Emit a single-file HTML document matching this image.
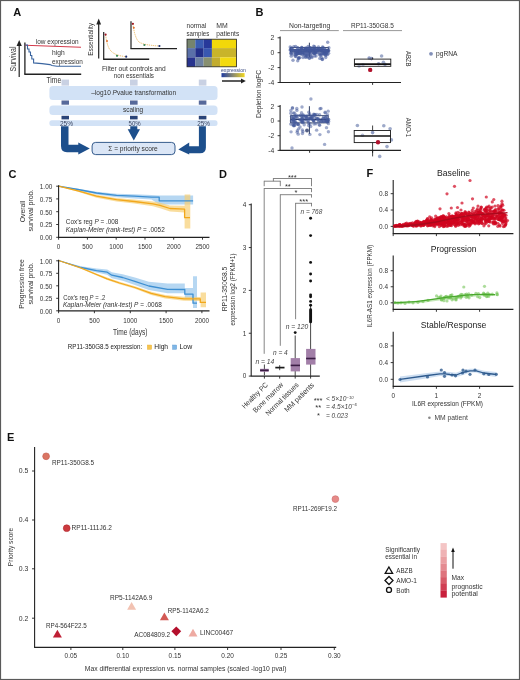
<!DOCTYPE html>
<html><head><meta charset="utf-8"><title>Figure</title>
<style>
html,body{margin:0;padding:0;background:#fff;}
body{width:520px;height:680px;overflow:hidden;}
svg{display:block;font-family:"Liberation Sans", sans-serif;will-change:transform;}
</style></head>
<body>
<svg width="520" height="680" viewBox="0 0 520 680">
<rect x="0" y="0" width="520" height="680" fill="#fff"/>
<text x="13.30" y="16.20" font-size="11.0" text-anchor="start" fill="#111" font-weight="bold">A</text>
<line x1="19.20" y1="77.00" x2="19.20" y2="45.00" stroke="#222" stroke-width="1.2"/>
<path d="M16.6,46 L19.2,40 L21.8,46 Z" fill="#222" stroke="none" stroke-width="1"/>
<text x="15.70" y="59.00" font-size="8.6" text-anchor="middle" fill="#333" textLength="25.00" lengthAdjust="spacingAndGlyphs" transform="rotate(-90 15.70 59.00)">Survival</text>
<line x1="24.90" y1="42.50" x2="24.90" y2="74.30" stroke="#222" stroke-width="1.3"/>
<line x1="24.30" y1="74.30" x2="81.20" y2="74.30" stroke="#222" stroke-width="1.6"/>
<path d="M25,45.2 L81,47.3" fill="none" stroke="#d33a4a" stroke-width="1.1"/>
<path d="M25,45 L27.5,45 L27.5,49 L29,49 L29,52 L30.5,52 L30.5,55.5 L31.8,55.5 L31.8,59 L33.6,59 L33.6,62.9 L42,63.6 L50,64.6 L52,65.5 L57,66.3 L81,66.3" fill="none" stroke="#3a65a0" stroke-width="1.1"/>
<text x="57.20" y="44.00" font-size="7.4" text-anchor="middle" fill="#333" textLength="42.80" lengthAdjust="spacingAndGlyphs">low expression</text>
<text x="58.40" y="55.30" font-size="7.4" text-anchor="middle" fill="#333" textLength="12.70" lengthAdjust="spacingAndGlyphs">high</text>
<text x="67.40" y="63.60" font-size="7.4" text-anchor="middle" fill="#333" textLength="30.90" lengthAdjust="spacingAndGlyphs">expression</text>
<text x="53.85" y="83.40" font-size="9.0" text-anchor="middle" fill="#333" textLength="14.70" lengthAdjust="spacingAndGlyphs">Time</text>
<line x1="98.70" y1="58.50" x2="98.70" y2="23.00" stroke="#222" stroke-width="1.2"/>
<path d="M96.3,24.5 L98.7,18.5 L101.1,24.5 Z" fill="#222" stroke="none" stroke-width="1"/>
<text x="92.80" y="39.40" font-size="7.8" text-anchor="middle" fill="#333" textLength="32.80" lengthAdjust="spacingAndGlyphs" transform="rotate(-90 92.80 39.40)">Essentiality</text>
<line x1="103.70" y1="32.00" x2="103.70" y2="59.20" stroke="#222" stroke-width="1.2"/>
<line x1="103.10" y1="59.20" x2="149.20" y2="59.20" stroke="#222" stroke-width="1.4"/>
<path d="M105.6,34.6 Q107,47 111,51 Q115,55.5 126,56.7" fill="none" stroke="#e8b050" stroke-width="0.9" stroke-dasharray="1.2 0.8"/>
<circle cx="105.60" cy="34.60" r="1.1" fill="#a01828"/>
<circle cx="107.00" cy="41.00" r="1.0" fill="#e07030"/>
<circle cx="117.00" cy="55.80" r="1.1" fill="#3a8a5a"/>
<circle cx="126.20" cy="56.70" r="1.1" fill="#1e3070"/>
<line x1="131.00" y1="21.20" x2="131.00" y2="48.60" stroke="#222" stroke-width="1.2"/>
<line x1="130.40" y1="48.60" x2="177.00" y2="48.60" stroke="#222" stroke-width="1.4"/>
<path d="M132.9,23.8 Q134.5,37 138.5,41.5 Q142,45 159.4,46" fill="none" stroke="#e8b050" stroke-width="0.9" stroke-dasharray="1.2 0.8"/>
<circle cx="132.90" cy="23.80" r="1.1" fill="#a01828"/>
<circle cx="133.80" cy="27.70" r="1.0" fill="#e07030"/>
<circle cx="144.40" cy="45.00" r="1.1" fill="#3a8a5a"/>
<circle cx="159.40" cy="46.00" r="1.1" fill="#1e3070"/>
<text x="133.80" y="70.60" font-size="7.6" text-anchor="middle" fill="#333" textLength="63.60" lengthAdjust="spacingAndGlyphs">Filter out controls and</text>
<text x="133.85" y="78.40" font-size="7.6" text-anchor="middle" fill="#333" textLength="40.30" lengthAdjust="spacingAndGlyphs">non essentials</text>
<rect x="187.00" y="39.20" width="8.35" height="8.95" fill="#76846e" stroke="none" stroke-width="0" rx="0"/>
<rect x="195.30" y="39.20" width="8.35" height="8.95" fill="#3a5db2" stroke="none" stroke-width="0" rx="0"/>
<rect x="203.60" y="39.20" width="8.35" height="8.95" fill="#27399a" stroke="none" stroke-width="0" rx="0"/>
<rect x="187.00" y="48.10" width="8.35" height="9.35" fill="#5a70a8" stroke="none" stroke-width="0" rx="0"/>
<rect x="195.30" y="48.10" width="8.35" height="9.35" fill="#232f88" stroke="none" stroke-width="0" rx="0"/>
<rect x="203.60" y="48.10" width="8.35" height="9.35" fill="#3957b0" stroke="none" stroke-width="0" rx="0"/>
<rect x="187.00" y="57.40" width="8.35" height="9.45" fill="#28348e" stroke="none" stroke-width="0" rx="0"/>
<rect x="195.30" y="57.40" width="8.35" height="9.45" fill="#6e82a2" stroke="none" stroke-width="0" rx="0"/>
<rect x="203.60" y="57.40" width="8.35" height="9.45" fill="#889070" stroke="none" stroke-width="0" rx="0"/>
<rect x="211.90" y="39.20" width="24.60" height="8.95" fill="#f2d80a" stroke="none" stroke-width="0" rx="0"/>
<rect x="211.90" y="48.10" width="24.60" height="9.35" fill="#c9b42a" stroke="none" stroke-width="0" rx="0"/>
<rect x="211.90" y="57.40" width="8.20" height="9.40" fill="#c2ac2e" stroke="none" stroke-width="0" rx="0"/>
<rect x="220.10" y="57.40" width="16.40" height="9.40" fill="#f3da10" stroke="none" stroke-width="0" rx="0"/>
<rect x="187.00" y="39.20" width="49.50" height="27.60" fill="none" stroke="#222" stroke-width="0.8" rx="0"/>
<text x="196.40" y="28.40" font-size="7.6" text-anchor="middle" fill="#333" textLength="19.70" lengthAdjust="spacingAndGlyphs">normal</text>
<text x="197.90" y="36.20" font-size="7.6" text-anchor="middle" fill="#333" textLength="22.80" lengthAdjust="spacingAndGlyphs">samples</text>
<text x="222.05" y="28.40" font-size="7.6" text-anchor="middle" fill="#333" textLength="11.50" lengthAdjust="spacingAndGlyphs">MM</text>
<text x="227.75" y="36.20" font-size="7.6" text-anchor="middle" fill="#333" textLength="22.90" lengthAdjust="spacingAndGlyphs">patients</text>
<text x="233.50" y="72.00" font-size="5.2" text-anchor="middle" fill="#3a4a80" textLength="25.00" lengthAdjust="spacingAndGlyphs">expression</text>
<defs><linearGradient id="hg" x1="0" x2="1" y1="0" y2="0"><stop offset="0" stop-color="#1e3aa0"/><stop offset="0.5" stop-color="#8a8a70"/><stop offset="1" stop-color="#f2d820"/></linearGradient></defs>
<rect x="221.50" y="73.10" width="23.10" height="4.10" fill="url(#hg)" stroke="none" stroke-width="0" rx="0"/>
<line x1="222.00" y1="81.00" x2="242.00" y2="81.00" stroke="#333" stroke-width="1.6"/>
<path d="M241,78.6 L245.8,81 L241,83.4 Z" fill="#222" stroke="none" stroke-width="1"/>
<rect x="49.40" y="86.10" width="168.10" height="13.90" fill="#d2e2f6" stroke="none" stroke-width="0" rx="3.5"/>
<rect x="49.40" y="105.60" width="168.10" height="9.40" fill="#d2e2f6" stroke="none" stroke-width="0" rx="3.5"/>
<rect x="49.40" y="120.20" width="168.10" height="5.90" fill="#d2e2f6" stroke="none" stroke-width="0" rx="2.5"/>
<rect x="61.50" y="79.60" width="7.50" height="6.00" fill="#c9d1e3" stroke="none" stroke-width="0" rx="0"/>
<rect x="61.50" y="100.50" width="7.50" height="4.20" fill="#57699a" stroke="none" stroke-width="0" rx="0"/>
<rect x="61.50" y="115.80" width="7.50" height="3.60" fill="#2a4478" stroke="none" stroke-width="0" rx="0"/>
<rect x="130.00" y="79.60" width="7.60" height="6.00" fill="#c9d1e3" stroke="none" stroke-width="0" rx="0"/>
<rect x="130.00" y="100.50" width="7.60" height="4.20" fill="#57699a" stroke="none" stroke-width="0" rx="0"/>
<rect x="130.00" y="115.80" width="7.60" height="3.60" fill="#2a4478" stroke="none" stroke-width="0" rx="0"/>
<rect x="198.80" y="79.60" width="7.60" height="6.00" fill="#c9d1e3" stroke="none" stroke-width="0" rx="0"/>
<rect x="198.80" y="100.50" width="7.60" height="4.20" fill="#57699a" stroke="none" stroke-width="0" rx="0"/>
<rect x="198.80" y="115.80" width="7.60" height="3.60" fill="#2a4478" stroke="none" stroke-width="0" rx="0"/>
<text x="133.65" y="95.30" font-size="6.7" text-anchor="middle" fill="#333" textLength="84.90" lengthAdjust="spacingAndGlyphs">–log10 <tspan font-style="italic">P</tspan>value transformation</text>
<text x="133.10" y="111.80" font-size="6.7" text-anchor="middle" fill="#333" textLength="20.20" lengthAdjust="spacingAndGlyphs">scaling</text>
<text x="66.50" y="125.60" font-size="7.0" text-anchor="middle" fill="#3a4560" textLength="13.00" lengthAdjust="spacingAndGlyphs">25%</text>
<text x="134.65" y="125.50" font-size="7.0" text-anchor="middle" fill="#3a4560" textLength="12.10" lengthAdjust="spacingAndGlyphs">50%</text>
<text x="203.60" y="125.50" font-size="7.0" text-anchor="middle" fill="#3a4560" textLength="12.80" lengthAdjust="spacingAndGlyphs">25%</text>
<path d="M61,126.3 L68.5,126.3 L68.5,144.8 L78.3,144.8 L78.3,142.5 L89.8,148.4 L78.3,154.6 L78.3,152.2 L67,152.2 Q61,152.2 61,146 Z" fill="#1d4f8c" stroke="none" stroke-width="1"/>
<path d="M130.3,126.3 L137.3,126.3 L137.3,129.2 L140,129.2 L133.8,140.4 L127.7,129.2 L130.3,129.2 Z" fill="#1d4f8c" stroke="none" stroke-width="1"/>
<path d="M198.9,126.3 L205.9,126.3 L205.9,147.5 Q205.9,153.3 200,153.3 L189.2,153.3 L189.2,154.5 L178.3,149.6 L189.2,142.6 L189.2,146.3 L198.9,146.3 Z" fill="#1d4f8c" stroke="none" stroke-width="1"/>
<rect x="92.10" y="142.40" width="82.90" height="12.20" fill="#dbe6f6" stroke="#1f4a80" stroke-width="0.9" rx="3.5"/>
<text x="133.00" y="150.60" font-size="6.7" text-anchor="middle" fill="#333" textLength="49.60" lengthAdjust="spacingAndGlyphs">Σ = priority score</text>
<text x="255.40" y="16.20" font-size="11.0" text-anchor="start" fill="#111" font-weight="bold">B</text>
<text x="309.60" y="27.60" font-size="7.2" text-anchor="middle" fill="#333" textLength="41.20" lengthAdjust="spacingAndGlyphs">Non-targeting</text>
<text x="372.40" y="27.60" font-size="7.2" text-anchor="middle" fill="#333" textLength="42.70" lengthAdjust="spacingAndGlyphs">RP11-350G8.5</text>
<line x1="280.00" y1="30.60" x2="338.80" y2="30.60" stroke="#999" stroke-width="1"/>
<line x1="343.00" y1="30.60" x2="402.00" y2="30.60" stroke="#999" stroke-width="1"/>
<text x="260.80" y="93.90" font-size="7.2" text-anchor="middle" fill="#333" textLength="48.00" lengthAdjust="spacingAndGlyphs" transform="rotate(-90 260.80 93.90)">Depletion logFC</text>
<line x1="280.10" y1="36.60" x2="280.10" y2="82.50" stroke="#222" stroke-width="1.1"/>
<line x1="279.60" y1="82.50" x2="401.00" y2="82.50" stroke="#222" stroke-width="1.1"/>
<line x1="277.60" y1="37.80" x2="280.10" y2="37.80" stroke="#222" stroke-width="0.9"/>
<text x="274.20" y="40.20" font-size="6.8" text-anchor="end" fill="#333">2</text>
<line x1="277.60" y1="52.70" x2="280.10" y2="52.70" stroke="#222" stroke-width="0.9"/>
<text x="274.20" y="55.10" font-size="6.8" text-anchor="end" fill="#333">0</text>
<line x1="277.60" y1="67.60" x2="280.10" y2="67.60" stroke="#222" stroke-width="0.9"/>
<text x="274.20" y="70.00" font-size="6.8" text-anchor="end" fill="#333">-2</text>
<line x1="277.60" y1="82.50" x2="280.10" y2="82.50" stroke="#222" stroke-width="0.9"/>
<text x="274.20" y="84.90" font-size="6.8" text-anchor="end" fill="#333">-4</text>
<line x1="309.60" y1="82.50" x2="309.60" y2="84.90" stroke="#222" stroke-width="0.9"/>
<line x1="372.60" y1="82.50" x2="372.60" y2="84.90" stroke="#222" stroke-width="0.9"/>
<rect x="290.50" y="47.60" width="38.00" height="4.20" fill="none" stroke="#1a2a50" stroke-width="0.8" rx="0"/>
<line x1="290.50" y1="49.80" x2="328.50" y2="49.80" stroke="#1a2a50" stroke-width="1.2"/>
<line x1="309.40" y1="42.70" x2="309.40" y2="47.60" stroke="#1a2a50" stroke-width="0.9"/>
<line x1="309.40" y1="51.80" x2="309.40" y2="57.00" stroke="#1a2a50" stroke-width="0.9"/>
<circle cx="314.38" cy="49.38" r="1.7" fill="#42589a" fill-opacity="0.55"/>
<circle cx="298.78" cy="51.18" r="1.7" fill="#42589a" fill-opacity="0.55"/>
<circle cx="290.21" cy="46.90" r="1.7" fill="#42589a" fill-opacity="0.55"/>
<circle cx="308.25" cy="48.92" r="1.7" fill="#42589a" fill-opacity="0.55"/>
<circle cx="299.94" cy="52.31" r="1.7" fill="#42589a" fill-opacity="0.55"/>
<circle cx="311.59" cy="53.30" r="1.7" fill="#42589a" fill-opacity="0.55"/>
<circle cx="314.26" cy="53.17" r="1.7" fill="#42589a" fill-opacity="0.55"/>
<circle cx="296.25" cy="54.41" r="1.7" fill="#42589a" fill-opacity="0.55"/>
<circle cx="310.08" cy="56.09" r="1.7" fill="#42589a" fill-opacity="0.55"/>
<circle cx="314.54" cy="49.82" r="1.7" fill="#42589a" fill-opacity="0.55"/>
<circle cx="299.65" cy="57.65" r="1.7" fill="#42589a" fill-opacity="0.55"/>
<circle cx="297.82" cy="51.97" r="1.7" fill="#42589a" fill-opacity="0.55"/>
<circle cx="296.02" cy="50.36" r="1.7" fill="#42589a" fill-opacity="0.55"/>
<circle cx="309.88" cy="53.01" r="1.7" fill="#42589a" fill-opacity="0.55"/>
<circle cx="318.93" cy="53.78" r="1.7" fill="#42589a" fill-opacity="0.55"/>
<circle cx="309.80" cy="51.62" r="1.7" fill="#42589a" fill-opacity="0.55"/>
<circle cx="313.33" cy="52.95" r="1.7" fill="#42589a" fill-opacity="0.55"/>
<circle cx="302.60" cy="50.54" r="1.7" fill="#42589a" fill-opacity="0.55"/>
<circle cx="304.80" cy="48.50" r="1.7" fill="#42589a" fill-opacity="0.55"/>
<circle cx="313.60" cy="49.61" r="1.7" fill="#42589a" fill-opacity="0.55"/>
<circle cx="295.88" cy="52.92" r="1.7" fill="#42589a" fill-opacity="0.55"/>
<circle cx="305.70" cy="47.95" r="1.7" fill="#42589a" fill-opacity="0.55"/>
<circle cx="298.39" cy="51.99" r="1.7" fill="#42589a" fill-opacity="0.55"/>
<circle cx="324.09" cy="50.72" r="1.7" fill="#42589a" fill-opacity="0.55"/>
<circle cx="326.85" cy="50.87" r="1.7" fill="#42589a" fill-opacity="0.55"/>
<circle cx="295.67" cy="46.46" r="1.7" fill="#42589a" fill-opacity="0.55"/>
<circle cx="311.54" cy="49.25" r="1.7" fill="#42589a" fill-opacity="0.55"/>
<circle cx="315.02" cy="52.75" r="1.7" fill="#42589a" fill-opacity="0.55"/>
<circle cx="306.03" cy="55.02" r="1.7" fill="#42589a" fill-opacity="0.55"/>
<circle cx="308.24" cy="50.90" r="1.7" fill="#42589a" fill-opacity="0.55"/>
<circle cx="319.30" cy="48.70" r="1.7" fill="#42589a" fill-opacity="0.55"/>
<circle cx="291.18" cy="54.12" r="1.7" fill="#42589a" fill-opacity="0.55"/>
<circle cx="315.65" cy="52.24" r="1.7" fill="#42589a" fill-opacity="0.55"/>
<circle cx="324.04" cy="52.08" r="1.7" fill="#42589a" fill-opacity="0.55"/>
<circle cx="316.66" cy="48.92" r="1.7" fill="#42589a" fill-opacity="0.55"/>
<circle cx="319.84" cy="58.40" r="1.7" fill="#42589a" fill-opacity="0.55"/>
<circle cx="290.20" cy="50.01" r="1.7" fill="#42589a" fill-opacity="0.55"/>
<circle cx="295.33" cy="52.14" r="1.7" fill="#42589a" fill-opacity="0.55"/>
<circle cx="290.56" cy="49.88" r="1.7" fill="#42589a" fill-opacity="0.55"/>
<circle cx="310.01" cy="54.86" r="1.7" fill="#42589a" fill-opacity="0.55"/>
<circle cx="297.74" cy="60.79" r="1.7" fill="#42589a" fill-opacity="0.55"/>
<circle cx="326.98" cy="52.11" r="1.7" fill="#42589a" fill-opacity="0.55"/>
<circle cx="300.59" cy="53.76" r="1.7" fill="#42589a" fill-opacity="0.55"/>
<circle cx="328.24" cy="50.25" r="1.7" fill="#42589a" fill-opacity="0.55"/>
<circle cx="324.97" cy="52.42" r="1.7" fill="#42589a" fill-opacity="0.55"/>
<circle cx="306.64" cy="50.21" r="1.7" fill="#42589a" fill-opacity="0.55"/>
<circle cx="325.99" cy="53.14" r="1.7" fill="#42589a" fill-opacity="0.55"/>
<circle cx="310.26" cy="47.79" r="1.7" fill="#42589a" fill-opacity="0.55"/>
<circle cx="321.44" cy="50.87" r="1.7" fill="#42589a" fill-opacity="0.55"/>
<circle cx="314.56" cy="46.62" r="1.7" fill="#42589a" fill-opacity="0.55"/>
<circle cx="305.53" cy="49.39" r="1.7" fill="#42589a" fill-opacity="0.55"/>
<circle cx="325.70" cy="57.49" r="1.7" fill="#42589a" fill-opacity="0.55"/>
<circle cx="308.69" cy="53.56" r="1.7" fill="#42589a" fill-opacity="0.55"/>
<circle cx="301.96" cy="54.29" r="1.7" fill="#42589a" fill-opacity="0.55"/>
<circle cx="314.50" cy="53.41" r="1.7" fill="#42589a" fill-opacity="0.55"/>
<circle cx="306.05" cy="50.43" r="1.7" fill="#42589a" fill-opacity="0.55"/>
<circle cx="318.47" cy="46.91" r="1.7" fill="#42589a" fill-opacity="0.55"/>
<circle cx="321.28" cy="50.17" r="1.7" fill="#42589a" fill-opacity="0.55"/>
<circle cx="325.71" cy="55.44" r="1.7" fill="#42589a" fill-opacity="0.55"/>
<circle cx="299.86" cy="53.65" r="1.7" fill="#42589a" fill-opacity="0.55"/>
<circle cx="291.52" cy="51.69" r="1.7" fill="#42589a" fill-opacity="0.55"/>
<circle cx="290.82" cy="48.80" r="1.7" fill="#42589a" fill-opacity="0.55"/>
<circle cx="311.00" cy="47.90" r="1.7" fill="#42589a" fill-opacity="0.55"/>
<circle cx="313.82" cy="53.06" r="1.7" fill="#42589a" fill-opacity="0.55"/>
<circle cx="291.55" cy="48.01" r="1.7" fill="#42589a" fill-opacity="0.55"/>
<circle cx="323.31" cy="52.82" r="1.7" fill="#42589a" fill-opacity="0.55"/>
<circle cx="302.40" cy="52.51" r="1.7" fill="#42589a" fill-opacity="0.55"/>
<circle cx="321.10" cy="54.01" r="1.7" fill="#42589a" fill-opacity="0.55"/>
<circle cx="321.09" cy="49.99" r="1.7" fill="#42589a" fill-opacity="0.55"/>
<circle cx="324.42" cy="52.14" r="1.7" fill="#42589a" fill-opacity="0.55"/>
<circle cx="314.91" cy="53.24" r="1.7" fill="#42589a" fill-opacity="0.55"/>
<circle cx="314.65" cy="49.12" r="1.7" fill="#42589a" fill-opacity="0.55"/>
<circle cx="302.76" cy="52.47" r="1.7" fill="#42589a" fill-opacity="0.55"/>
<circle cx="324.82" cy="53.80" r="1.7" fill="#42589a" fill-opacity="0.55"/>
<circle cx="298.37" cy="53.41" r="1.7" fill="#42589a" fill-opacity="0.55"/>
<circle cx="304.79" cy="50.13" r="1.7" fill="#42589a" fill-opacity="0.55"/>
<circle cx="315.63" cy="48.32" r="1.7" fill="#42589a" fill-opacity="0.55"/>
<circle cx="295.22" cy="50.79" r="1.7" fill="#42589a" fill-opacity="0.55"/>
<circle cx="304.70" cy="55.34" r="1.7" fill="#42589a" fill-opacity="0.55"/>
<circle cx="298.39" cy="57.84" r="1.7" fill="#42589a" fill-opacity="0.55"/>
<circle cx="293.18" cy="49.98" r="1.7" fill="#42589a" fill-opacity="0.55"/>
<circle cx="301.69" cy="47.40" r="1.7" fill="#42589a" fill-opacity="0.55"/>
<circle cx="295.11" cy="52.23" r="1.7" fill="#42589a" fill-opacity="0.55"/>
<circle cx="325.35" cy="49.58" r="1.7" fill="#42589a" fill-opacity="0.55"/>
<circle cx="322.48" cy="59.20" r="1.7" fill="#42589a" fill-opacity="0.55"/>
<circle cx="324.47" cy="50.11" r="1.7" fill="#42589a" fill-opacity="0.55"/>
<circle cx="293.78" cy="46.61" r="1.7" fill="#42589a" fill-opacity="0.55"/>
<circle cx="322.20" cy="49.19" r="1.7" fill="#42589a" fill-opacity="0.55"/>
<circle cx="292.50" cy="50.24" r="1.7" fill="#42589a" fill-opacity="0.55"/>
<circle cx="297.44" cy="50.73" r="1.7" fill="#42589a" fill-opacity="0.55"/>
<circle cx="319.18" cy="49.81" r="1.7" fill="#42589a" fill-opacity="0.55"/>
<circle cx="321.18" cy="51.02" r="1.7" fill="#42589a" fill-opacity="0.55"/>
<circle cx="328.87" cy="47.79" r="1.7" fill="#42589a" fill-opacity="0.55"/>
<circle cx="320.31" cy="49.83" r="1.7" fill="#42589a" fill-opacity="0.55"/>
<circle cx="297.19" cy="50.58" r="1.7" fill="#42589a" fill-opacity="0.55"/>
<circle cx="318.13" cy="48.77" r="1.7" fill="#42589a" fill-opacity="0.55"/>
<circle cx="306.37" cy="51.61" r="1.7" fill="#42589a" fill-opacity="0.55"/>
<circle cx="311.15" cy="49.93" r="1.7" fill="#42589a" fill-opacity="0.55"/>
<circle cx="318.14" cy="50.25" r="1.7" fill="#42589a" fill-opacity="0.55"/>
<circle cx="325.86" cy="54.57" r="1.7" fill="#42589a" fill-opacity="0.55"/>
<circle cx="328.73" cy="50.65" r="1.7" fill="#42589a" fill-opacity="0.55"/>
<circle cx="322.19" cy="59.54" r="1.7" fill="#42589a" fill-opacity="0.55"/>
<circle cx="328.53" cy="50.84" r="1.7" fill="#42589a" fill-opacity="0.55"/>
<circle cx="307.40" cy="53.39" r="1.7" fill="#42589a" fill-opacity="0.55"/>
<circle cx="298.47" cy="58.44" r="1.7" fill="#42589a" fill-opacity="0.55"/>
<circle cx="291.27" cy="53.07" r="1.7" fill="#42589a" fill-opacity="0.55"/>
<circle cx="318.07" cy="49.82" r="1.7" fill="#42589a" fill-opacity="0.55"/>
<circle cx="324.66" cy="48.77" r="1.7" fill="#42589a" fill-opacity="0.55"/>
<circle cx="305.37" cy="57.13" r="1.7" fill="#42589a" fill-opacity="0.55"/>
<circle cx="309.63" cy="58.09" r="1.7" fill="#42589a" fill-opacity="0.55"/>
<circle cx="308.89" cy="51.29" r="1.7" fill="#42589a" fill-opacity="0.55"/>
<circle cx="300.37" cy="49.58" r="1.7" fill="#42589a" fill-opacity="0.55"/>
<circle cx="310.13" cy="50.19" r="1.7" fill="#42589a" fill-opacity="0.55"/>
<circle cx="305.43" cy="48.89" r="1.7" fill="#42589a" fill-opacity="0.55"/>
<circle cx="297.00" cy="53.63" r="1.7" fill="#42589a" fill-opacity="0.55"/>
<circle cx="326.72" cy="53.45" r="1.7" fill="#42589a" fill-opacity="0.55"/>
<circle cx="298.10" cy="50.45" r="1.7" fill="#42589a" fill-opacity="0.55"/>
<circle cx="325.68" cy="51.71" r="1.7" fill="#42589a" fill-opacity="0.55"/>
<circle cx="313.40" cy="49.58" r="1.7" fill="#42589a" fill-opacity="0.55"/>
<circle cx="308.14" cy="50.23" r="1.7" fill="#42589a" fill-opacity="0.55"/>
<circle cx="322.33" cy="49.82" r="1.7" fill="#42589a" fill-opacity="0.55"/>
<circle cx="323.14" cy="47.56" r="1.7" fill="#42589a" fill-opacity="0.55"/>
<circle cx="301.76" cy="48.87" r="1.7" fill="#42589a" fill-opacity="0.55"/>
<circle cx="296.47" cy="50.90" r="1.7" fill="#42589a" fill-opacity="0.55"/>
<circle cx="302.85" cy="54.21" r="1.7" fill="#42589a" fill-opacity="0.55"/>
<circle cx="293.57" cy="54.22" r="1.7" fill="#42589a" fill-opacity="0.55"/>
<circle cx="321.34" cy="49.16" r="1.7" fill="#42589a" fill-opacity="0.55"/>
<circle cx="317.41" cy="49.59" r="1.7" fill="#42589a" fill-opacity="0.55"/>
<circle cx="306.91" cy="48.17" r="1.7" fill="#42589a" fill-opacity="0.55"/>
<circle cx="322.57" cy="46.88" r="1.7" fill="#42589a" fill-opacity="0.55"/>
<circle cx="298.15" cy="51.01" r="1.7" fill="#42589a" fill-opacity="0.55"/>
<circle cx="292.55" cy="49.61" r="1.7" fill="#42589a" fill-opacity="0.55"/>
<circle cx="308.28" cy="49.70" r="1.7" fill="#42589a" fill-opacity="0.55"/>
<circle cx="310.41" cy="51.34" r="1.7" fill="#42589a" fill-opacity="0.55"/>
<circle cx="311.77" cy="56.47" r="1.7" fill="#42589a" fill-opacity="0.55"/>
<circle cx="314.61" cy="55.96" r="1.7" fill="#42589a" fill-opacity="0.55"/>
<circle cx="298.67" cy="53.17" r="1.7" fill="#42589a" fill-opacity="0.55"/>
<circle cx="297.72" cy="53.74" r="1.7" fill="#42589a" fill-opacity="0.55"/>
<circle cx="317.59" cy="52.42" r="1.7" fill="#42589a" fill-opacity="0.55"/>
<circle cx="308.17" cy="46.52" r="1.7" fill="#42589a" fill-opacity="0.55"/>
<circle cx="316.45" cy="50.63" r="1.7" fill="#42589a" fill-opacity="0.55"/>
<circle cx="311.77" cy="50.46" r="1.7" fill="#42589a" fill-opacity="0.55"/>
<circle cx="304.84" cy="52.68" r="1.7" fill="#42589a" fill-opacity="0.55"/>
<circle cx="309.64" cy="47.81" r="1.7" fill="#42589a" fill-opacity="0.55"/>
<circle cx="304.86" cy="54.20" r="1.7" fill="#42589a" fill-opacity="0.55"/>
<circle cx="307.44" cy="54.65" r="1.7" fill="#42589a" fill-opacity="0.55"/>
<circle cx="323.55" cy="53.73" r="1.7" fill="#42589a" fill-opacity="0.55"/>
<circle cx="315.92" cy="52.79" r="1.7" fill="#42589a" fill-opacity="0.55"/>
<circle cx="306.40" cy="51.81" r="1.7" fill="#42589a" fill-opacity="0.55"/>
<circle cx="301.42" cy="49.06" r="1.7" fill="#42589a" fill-opacity="0.55"/>
<circle cx="303.75" cy="52.98" r="1.7" fill="#42589a" fill-opacity="0.55"/>
<circle cx="312.68" cy="50.86" r="1.7" fill="#42589a" fill-opacity="0.55"/>
<circle cx="304.71" cy="49.71" r="1.7" fill="#42589a" fill-opacity="0.55"/>
<circle cx="309.26" cy="58.33" r="1.7" fill="#42589a" fill-opacity="0.55"/>
<circle cx="297.72" cy="48.31" r="1.7" fill="#42589a" fill-opacity="0.55"/>
<circle cx="322.28" cy="53.41" r="1.7" fill="#42589a" fill-opacity="0.55"/>
<circle cx="307.86" cy="56.81" r="1.7" fill="#42589a" fill-opacity="0.55"/>
<circle cx="297.85" cy="47.61" r="1.7" fill="#42589a" fill-opacity="0.55"/>
<circle cx="320.05" cy="53.68" r="1.7" fill="#42589a" fill-opacity="0.55"/>
<circle cx="321.88" cy="57.85" r="1.7" fill="#42589a" fill-opacity="0.55"/>
<circle cx="299.60" cy="51.03" r="1.7" fill="#42589a" fill-opacity="0.55"/>
<circle cx="314.85" cy="50.32" r="1.7" fill="#42589a" fill-opacity="0.55"/>
<circle cx="310.46" cy="50.18" r="1.7" fill="#42589a" fill-opacity="0.55"/>
<circle cx="327.52" cy="50.42" r="1.7" fill="#42589a" fill-opacity="0.55"/>
<circle cx="300.00" cy="51.54" r="1.7" fill="#42589a" fill-opacity="0.55"/>
<circle cx="320.10" cy="55.28" r="1.7" fill="#42589a" fill-opacity="0.55"/>
<circle cx="302.54" cy="50.53" r="1.7" fill="#42589a" fill-opacity="0.55"/>
<circle cx="326.00" cy="50.66" r="1.7" fill="#42589a" fill-opacity="0.55"/>
<circle cx="319.94" cy="50.10" r="1.7" fill="#42589a" fill-opacity="0.55"/>
<circle cx="300.02" cy="53.29" r="1.7" fill="#42589a" fill-opacity="0.55"/>
<circle cx="295.53" cy="55.04" r="1.7" fill="#42589a" fill-opacity="0.55"/>
<circle cx="295.29" cy="56.19" r="1.7" fill="#42589a" fill-opacity="0.55"/>
<circle cx="327.51" cy="54.63" r="1.7" fill="#42589a" fill-opacity="0.55"/>
<circle cx="308.50" cy="49.53" r="1.7" fill="#42589a" fill-opacity="0.55"/>
<circle cx="296.35" cy="50.43" r="1.7" fill="#42589a" fill-opacity="0.55"/>
<circle cx="297.18" cy="54.06" r="1.7" fill="#42589a" fill-opacity="0.55"/>
<circle cx="306.29" cy="57.13" r="1.7" fill="#42589a" fill-opacity="0.55"/>
<circle cx="324.85" cy="54.24" r="1.7" fill="#42589a" fill-opacity="0.55"/>
<circle cx="313.41" cy="48.81" r="1.7" fill="#42589a" fill-opacity="0.55"/>
<circle cx="327.18" cy="51.78" r="1.7" fill="#42589a" fill-opacity="0.55"/>
<circle cx="291.27" cy="56.13" r="1.7" fill="#42589a" fill-opacity="0.55"/>
<circle cx="328.60" cy="53.18" r="1.7" fill="#42589a" fill-opacity="0.55"/>
<circle cx="316.46" cy="50.98" r="1.7" fill="#42589a" fill-opacity="0.55"/>
<circle cx="313.71" cy="46.29" r="1.7" fill="#42589a" fill-opacity="0.55"/>
<circle cx="290.73" cy="53.10" r="1.7" fill="#42589a" fill-opacity="0.55"/>
<circle cx="306.42" cy="49.15" r="1.7" fill="#42589a" fill-opacity="0.55"/>
<circle cx="303.13" cy="52.48" r="1.7" fill="#42589a" fill-opacity="0.55"/>
<circle cx="301.85" cy="47.54" r="1.7" fill="#42589a" fill-opacity="0.55"/>
<circle cx="300.86" cy="49.23" r="1.7" fill="#42589a" fill-opacity="0.55"/>
<circle cx="323.29" cy="53.90" r="1.7" fill="#42589a" fill-opacity="0.55"/>
<circle cx="327.70" cy="42.30" r="1.7" fill="#42589a" fill-opacity="0.55"/>
<circle cx="293.00" cy="60.30" r="1.7" fill="#42589a" fill-opacity="0.55"/>
<circle cx="299.00" cy="58.00" r="1.7" fill="#42589a" fill-opacity="0.55"/>
<circle cx="303.00" cy="57.50" r="1.7" fill="#42589a" fill-opacity="0.55"/>
<circle cx="312.00" cy="57.50" r="1.7" fill="#42589a" fill-opacity="0.55"/>
<circle cx="316.00" cy="56.00" r="1.7" fill="#42589a" fill-opacity="0.55"/>
<circle cx="321.00" cy="55.50" r="1.7" fill="#42589a" fill-opacity="0.55"/>
<circle cx="296.00" cy="56.50" r="1.7" fill="#42589a" fill-opacity="0.55"/>
<circle cx="307.00" cy="56.00" r="1.7" fill="#42589a" fill-opacity="0.55"/>
<circle cx="369.20" cy="58.00" r="1.8" fill="#7a8ab8" fill-opacity="0.85"/>
<circle cx="371.50" cy="58.60" r="1.8" fill="#7a8ab8" fill-opacity="0.85"/>
<circle cx="381.60" cy="56.00" r="1.8" fill="#8c9ac0" fill-opacity="0.85"/>
<circle cx="383.40" cy="62.20" r="1.8" fill="#8c9ac0" fill-opacity="0.85"/>
<circle cx="359.10" cy="66.30" r="1.8" fill="#b0bad8" fill-opacity="0.85"/>
<circle cx="378.60" cy="63.80" r="1.8" fill="#7a8ab8" fill-opacity="0.85"/>
<circle cx="385.00" cy="64.50" r="1.8" fill="#8c9ac0" fill-opacity="0.85"/>
<circle cx="363.00" cy="64.80" r="1.8" fill="#b0bad8" fill-opacity="0.85"/>
<rect x="354.40" y="59.10" width="36.40" height="7.20" fill="none" stroke="#1a1a1a" stroke-width="0.9" rx="0"/>
<line x1="354.40" y1="64.10" x2="390.80" y2="64.10" stroke="#111" stroke-width="1.6"/>
<line x1="372.60" y1="57.50" x2="372.60" y2="59.10" stroke="#111" stroke-width="0.8"/>
<circle cx="370.20" cy="69.90" r="2.2" fill="#b0122c"/>
<text x="405.60" y="58.70" font-size="7.4" text-anchor="middle" fill="#333" textLength="15.50" lengthAdjust="spacingAndGlyphs" transform="rotate(90 405.60 58.70)">ABZB</text>
<circle cx="431.00" cy="53.80" r="1.9" fill="#8290b8"/>
<text x="436.00" y="56.30" font-size="7.2" text-anchor="start" fill="#333" textLength="21.50" lengthAdjust="spacingAndGlyphs">pgRNA</text>
<line x1="280.10" y1="105.10" x2="280.10" y2="150.40" stroke="#222" stroke-width="1.1"/>
<line x1="279.60" y1="150.40" x2="401.00" y2="150.40" stroke="#222" stroke-width="1.1"/>
<line x1="277.60" y1="106.30" x2="280.10" y2="106.30" stroke="#222" stroke-width="0.9"/>
<text x="274.20" y="108.70" font-size="6.8" text-anchor="end" fill="#333">2</text>
<line x1="277.60" y1="121.00" x2="280.10" y2="121.00" stroke="#222" stroke-width="0.9"/>
<text x="274.20" y="123.40" font-size="6.8" text-anchor="end" fill="#333">0</text>
<line x1="277.60" y1="135.70" x2="280.10" y2="135.70" stroke="#222" stroke-width="0.9"/>
<text x="274.20" y="138.10" font-size="6.8" text-anchor="end" fill="#333">-2</text>
<line x1="277.60" y1="150.40" x2="280.10" y2="150.40" stroke="#222" stroke-width="0.9"/>
<text x="274.20" y="152.80" font-size="6.8" text-anchor="end" fill="#333">-4</text>
<line x1="309.60" y1="150.40" x2="309.60" y2="152.80" stroke="#222" stroke-width="0.9"/>
<line x1="372.60" y1="150.40" x2="372.60" y2="152.80" stroke="#222" stroke-width="0.9"/>
<rect x="290.70" y="115.70" width="37.50" height="7.20" fill="none" stroke="#1a2a50" stroke-width="0.8" rx="0"/>
<line x1="290.70" y1="119.30" x2="328.20" y2="119.30" stroke="#1a2a50" stroke-width="1.2"/>
<line x1="309.40" y1="106.20" x2="309.40" y2="115.70" stroke="#1a2a50" stroke-width="0.9"/>
<line x1="309.40" y1="122.90" x2="309.40" y2="134.00" stroke="#1a2a50" stroke-width="0.9"/>
<circle cx="299.95" cy="120.00" r="1.7" fill="#42589a" fill-opacity="0.5"/>
<circle cx="316.92" cy="114.33" r="1.7" fill="#42589a" fill-opacity="0.5"/>
<circle cx="300.84" cy="115.26" r="1.7" fill="#42589a" fill-opacity="0.5"/>
<circle cx="295.03" cy="115.75" r="1.7" fill="#42589a" fill-opacity="0.5"/>
<circle cx="323.09" cy="118.27" r="1.7" fill="#42589a" fill-opacity="0.5"/>
<circle cx="313.91" cy="120.58" r="1.7" fill="#42589a" fill-opacity="0.5"/>
<circle cx="308.01" cy="120.59" r="1.7" fill="#42589a" fill-opacity="0.5"/>
<circle cx="314.97" cy="114.35" r="1.7" fill="#42589a" fill-opacity="0.5"/>
<circle cx="318.41" cy="121.99" r="1.7" fill="#42589a" fill-opacity="0.5"/>
<circle cx="291.52" cy="116.19" r="1.7" fill="#42589a" fill-opacity="0.5"/>
<circle cx="298.38" cy="124.62" r="1.7" fill="#42589a" fill-opacity="0.5"/>
<circle cx="323.61" cy="117.00" r="1.7" fill="#42589a" fill-opacity="0.5"/>
<circle cx="293.47" cy="113.01" r="1.7" fill="#42589a" fill-opacity="0.5"/>
<circle cx="292.93" cy="124.91" r="1.7" fill="#42589a" fill-opacity="0.5"/>
<circle cx="326.02" cy="117.93" r="1.7" fill="#42589a" fill-opacity="0.5"/>
<circle cx="310.01" cy="118.85" r="1.7" fill="#42589a" fill-opacity="0.5"/>
<circle cx="308.75" cy="112.25" r="1.7" fill="#42589a" fill-opacity="0.5"/>
<circle cx="323.81" cy="118.82" r="1.7" fill="#42589a" fill-opacity="0.5"/>
<circle cx="304.71" cy="119.49" r="1.7" fill="#42589a" fill-opacity="0.5"/>
<circle cx="321.79" cy="121.54" r="1.7" fill="#42589a" fill-opacity="0.5"/>
<circle cx="327.79" cy="121.20" r="1.7" fill="#42589a" fill-opacity="0.5"/>
<circle cx="296.40" cy="116.75" r="1.7" fill="#42589a" fill-opacity="0.5"/>
<circle cx="327.21" cy="121.74" r="1.7" fill="#42589a" fill-opacity="0.5"/>
<circle cx="302.96" cy="115.05" r="1.7" fill="#42589a" fill-opacity="0.5"/>
<circle cx="313.19" cy="119.96" r="1.7" fill="#42589a" fill-opacity="0.5"/>
<circle cx="298.13" cy="124.07" r="1.7" fill="#42589a" fill-opacity="0.5"/>
<circle cx="296.89" cy="110.42" r="1.7" fill="#42589a" fill-opacity="0.5"/>
<circle cx="295.70" cy="116.44" r="1.7" fill="#42589a" fill-opacity="0.5"/>
<circle cx="306.02" cy="120.01" r="1.7" fill="#42589a" fill-opacity="0.5"/>
<circle cx="311.36" cy="116.57" r="1.7" fill="#42589a" fill-opacity="0.5"/>
<circle cx="294.62" cy="113.14" r="1.7" fill="#42589a" fill-opacity="0.5"/>
<circle cx="294.40" cy="125.50" r="1.7" fill="#42589a" fill-opacity="0.5"/>
<circle cx="325.55" cy="117.36" r="1.7" fill="#42589a" fill-opacity="0.5"/>
<circle cx="297.91" cy="124.39" r="1.7" fill="#42589a" fill-opacity="0.5"/>
<circle cx="293.20" cy="119.89" r="1.7" fill="#42589a" fill-opacity="0.5"/>
<circle cx="310.68" cy="126.43" r="1.7" fill="#42589a" fill-opacity="0.5"/>
<circle cx="295.93" cy="115.12" r="1.7" fill="#42589a" fill-opacity="0.5"/>
<circle cx="319.40" cy="124.76" r="1.7" fill="#42589a" fill-opacity="0.5"/>
<circle cx="302.47" cy="133.51" r="1.7" fill="#42589a" fill-opacity="0.5"/>
<circle cx="296.75" cy="123.79" r="1.7" fill="#42589a" fill-opacity="0.5"/>
<circle cx="310.05" cy="123.84" r="1.7" fill="#42589a" fill-opacity="0.5"/>
<circle cx="292.52" cy="108.06" r="1.7" fill="#42589a" fill-opacity="0.5"/>
<circle cx="304.23" cy="124.74" r="1.7" fill="#42589a" fill-opacity="0.5"/>
<circle cx="303.25" cy="122.19" r="1.7" fill="#42589a" fill-opacity="0.5"/>
<circle cx="319.57" cy="120.23" r="1.7" fill="#42589a" fill-opacity="0.5"/>
<circle cx="325.85" cy="120.03" r="1.7" fill="#42589a" fill-opacity="0.5"/>
<circle cx="300.25" cy="119.58" r="1.7" fill="#42589a" fill-opacity="0.5"/>
<circle cx="313.70" cy="114.19" r="1.7" fill="#42589a" fill-opacity="0.5"/>
<circle cx="308.81" cy="118.39" r="1.7" fill="#42589a" fill-opacity="0.5"/>
<circle cx="317.29" cy="118.52" r="1.7" fill="#42589a" fill-opacity="0.5"/>
<circle cx="294.47" cy="125.25" r="1.7" fill="#42589a" fill-opacity="0.5"/>
<circle cx="326.61" cy="116.60" r="1.7" fill="#42589a" fill-opacity="0.5"/>
<circle cx="314.05" cy="124.00" r="1.7" fill="#42589a" fill-opacity="0.5"/>
<circle cx="308.16" cy="121.00" r="1.7" fill="#42589a" fill-opacity="0.5"/>
<circle cx="316.63" cy="130.17" r="1.7" fill="#42589a" fill-opacity="0.5"/>
<circle cx="306.33" cy="117.57" r="1.7" fill="#42589a" fill-opacity="0.5"/>
<circle cx="328.69" cy="119.46" r="1.7" fill="#42589a" fill-opacity="0.5"/>
<circle cx="326.80" cy="121.84" r="1.7" fill="#42589a" fill-opacity="0.5"/>
<circle cx="326.70" cy="120.93" r="1.7" fill="#42589a" fill-opacity="0.5"/>
<circle cx="319.63" cy="125.34" r="1.7" fill="#42589a" fill-opacity="0.5"/>
<circle cx="305.37" cy="116.09" r="1.7" fill="#42589a" fill-opacity="0.5"/>
<circle cx="319.53" cy="114.71" r="1.7" fill="#42589a" fill-opacity="0.5"/>
<circle cx="321.39" cy="121.35" r="1.7" fill="#42589a" fill-opacity="0.5"/>
<circle cx="302.20" cy="118.11" r="1.7" fill="#42589a" fill-opacity="0.5"/>
<circle cx="302.94" cy="131.57" r="1.7" fill="#42589a" fill-opacity="0.5"/>
<circle cx="317.34" cy="119.66" r="1.7" fill="#42589a" fill-opacity="0.5"/>
<circle cx="291.81" cy="116.97" r="1.7" fill="#42589a" fill-opacity="0.5"/>
<circle cx="300.26" cy="115.56" r="1.7" fill="#42589a" fill-opacity="0.5"/>
<circle cx="313.21" cy="120.33" r="1.7" fill="#42589a" fill-opacity="0.5"/>
<circle cx="293.58" cy="120.46" r="1.7" fill="#42589a" fill-opacity="0.5"/>
<circle cx="298.21" cy="134.16" r="1.7" fill="#42589a" fill-opacity="0.5"/>
<circle cx="328.64" cy="121.49" r="1.7" fill="#42589a" fill-opacity="0.5"/>
<circle cx="313.65" cy="120.33" r="1.7" fill="#42589a" fill-opacity="0.5"/>
<circle cx="303.12" cy="116.09" r="1.7" fill="#42589a" fill-opacity="0.5"/>
<circle cx="293.42" cy="122.66" r="1.7" fill="#42589a" fill-opacity="0.5"/>
<circle cx="293.21" cy="118.07" r="1.7" fill="#42589a" fill-opacity="0.5"/>
<circle cx="307.26" cy="115.69" r="1.7" fill="#42589a" fill-opacity="0.5"/>
<circle cx="290.86" cy="110.57" r="1.7" fill="#42589a" fill-opacity="0.5"/>
<circle cx="325.06" cy="112.26" r="1.7" fill="#42589a" fill-opacity="0.5"/>
<circle cx="291.58" cy="120.16" r="1.7" fill="#42589a" fill-opacity="0.5"/>
<circle cx="314.88" cy="114.89" r="1.7" fill="#42589a" fill-opacity="0.5"/>
<circle cx="303.41" cy="115.15" r="1.7" fill="#42589a" fill-opacity="0.5"/>
<circle cx="316.54" cy="118.29" r="1.7" fill="#42589a" fill-opacity="0.5"/>
<circle cx="294.36" cy="119.16" r="1.7" fill="#42589a" fill-opacity="0.5"/>
<circle cx="327.16" cy="120.24" r="1.7" fill="#42589a" fill-opacity="0.5"/>
<circle cx="310.47" cy="118.40" r="1.7" fill="#42589a" fill-opacity="0.5"/>
<circle cx="293.07" cy="118.86" r="1.7" fill="#42589a" fill-opacity="0.5"/>
<circle cx="321.77" cy="119.59" r="1.7" fill="#42589a" fill-opacity="0.5"/>
<circle cx="297.32" cy="118.19" r="1.7" fill="#42589a" fill-opacity="0.5"/>
<circle cx="328.14" cy="111.15" r="1.7" fill="#42589a" fill-opacity="0.5"/>
<circle cx="306.00" cy="116.35" r="1.7" fill="#42589a" fill-opacity="0.5"/>
<circle cx="290.81" cy="113.28" r="1.7" fill="#42589a" fill-opacity="0.5"/>
<circle cx="309.85" cy="114.14" r="1.7" fill="#42589a" fill-opacity="0.5"/>
<circle cx="302.70" cy="117.88" r="1.7" fill="#42589a" fill-opacity="0.5"/>
<circle cx="309.90" cy="134.38" r="1.7" fill="#42589a" fill-opacity="0.5"/>
<circle cx="312.80" cy="116.48" r="1.7" fill="#42589a" fill-opacity="0.5"/>
<circle cx="309.91" cy="115.37" r="1.7" fill="#42589a" fill-opacity="0.5"/>
<circle cx="327.03" cy="119.42" r="1.7" fill="#42589a" fill-opacity="0.5"/>
<circle cx="314.51" cy="114.85" r="1.7" fill="#42589a" fill-opacity="0.5"/>
<circle cx="298.59" cy="128.87" r="1.7" fill="#42589a" fill-opacity="0.5"/>
<circle cx="297.98" cy="115.72" r="1.7" fill="#42589a" fill-opacity="0.5"/>
<circle cx="311.25" cy="117.45" r="1.7" fill="#42589a" fill-opacity="0.5"/>
<circle cx="315.92" cy="123.81" r="1.7" fill="#42589a" fill-opacity="0.5"/>
<circle cx="311.29" cy="118.57" r="1.7" fill="#42589a" fill-opacity="0.5"/>
<circle cx="301.89" cy="118.85" r="1.7" fill="#42589a" fill-opacity="0.5"/>
<circle cx="327.46" cy="114.82" r="1.7" fill="#42589a" fill-opacity="0.5"/>
<circle cx="323.60" cy="121.52" r="1.7" fill="#42589a" fill-opacity="0.5"/>
<circle cx="301.56" cy="112.66" r="1.7" fill="#42589a" fill-opacity="0.5"/>
<circle cx="313.70" cy="115.04" r="1.7" fill="#42589a" fill-opacity="0.5"/>
<circle cx="311.36" cy="119.03" r="1.7" fill="#42589a" fill-opacity="0.5"/>
<circle cx="293.17" cy="119.05" r="1.7" fill="#42589a" fill-opacity="0.5"/>
<circle cx="294.26" cy="116.70" r="1.7" fill="#42589a" fill-opacity="0.5"/>
<circle cx="328.26" cy="119.55" r="1.7" fill="#42589a" fill-opacity="0.5"/>
<circle cx="297.35" cy="130.63" r="1.7" fill="#42589a" fill-opacity="0.5"/>
<circle cx="324.30" cy="121.20" r="1.7" fill="#42589a" fill-opacity="0.5"/>
<circle cx="301.69" cy="116.47" r="1.7" fill="#42589a" fill-opacity="0.5"/>
<circle cx="326.01" cy="121.33" r="1.7" fill="#42589a" fill-opacity="0.5"/>
<circle cx="295.68" cy="121.77" r="1.7" fill="#42589a" fill-opacity="0.5"/>
<circle cx="306.76" cy="117.89" r="1.7" fill="#42589a" fill-opacity="0.5"/>
<circle cx="301.65" cy="120.19" r="1.7" fill="#42589a" fill-opacity="0.5"/>
<circle cx="325.32" cy="112.92" r="1.7" fill="#42589a" fill-opacity="0.5"/>
<circle cx="302.41" cy="120.06" r="1.7" fill="#42589a" fill-opacity="0.5"/>
<circle cx="309.95" cy="118.63" r="1.7" fill="#42589a" fill-opacity="0.5"/>
<circle cx="294.13" cy="119.54" r="1.7" fill="#42589a" fill-opacity="0.5"/>
<circle cx="291.62" cy="121.20" r="1.7" fill="#42589a" fill-opacity="0.5"/>
<circle cx="291.08" cy="131.83" r="1.7" fill="#42589a" fill-opacity="0.5"/>
<circle cx="308.67" cy="125.55" r="1.7" fill="#42589a" fill-opacity="0.5"/>
<circle cx="294.68" cy="122.29" r="1.7" fill="#42589a" fill-opacity="0.5"/>
<circle cx="312.14" cy="117.81" r="1.7" fill="#42589a" fill-opacity="0.5"/>
<circle cx="314.74" cy="116.91" r="1.7" fill="#42589a" fill-opacity="0.5"/>
<circle cx="305.52" cy="116.41" r="1.7" fill="#42589a" fill-opacity="0.5"/>
<circle cx="320.01" cy="108.75" r="1.7" fill="#42589a" fill-opacity="0.5"/>
<circle cx="318.22" cy="119.78" r="1.7" fill="#42589a" fill-opacity="0.5"/>
<circle cx="320.50" cy="121.42" r="1.7" fill="#42589a" fill-opacity="0.5"/>
<circle cx="318.18" cy="118.40" r="1.7" fill="#42589a" fill-opacity="0.5"/>
<circle cx="308.54" cy="122.94" r="1.7" fill="#42589a" fill-opacity="0.5"/>
<circle cx="302.68" cy="121.51" r="1.7" fill="#42589a" fill-opacity="0.5"/>
<circle cx="326.51" cy="127.66" r="1.7" fill="#42589a" fill-opacity="0.5"/>
<circle cx="313.79" cy="121.11" r="1.7" fill="#42589a" fill-opacity="0.5"/>
<circle cx="292.40" cy="107.91" r="1.7" fill="#42589a" fill-opacity="0.5"/>
<circle cx="302.23" cy="122.60" r="1.7" fill="#42589a" fill-opacity="0.5"/>
<circle cx="326.56" cy="121.26" r="1.7" fill="#42589a" fill-opacity="0.5"/>
<circle cx="290.73" cy="124.09" r="1.7" fill="#42589a" fill-opacity="0.5"/>
<circle cx="295.08" cy="122.46" r="1.7" fill="#42589a" fill-opacity="0.5"/>
<circle cx="301.81" cy="121.68" r="1.7" fill="#42589a" fill-opacity="0.5"/>
<circle cx="293.69" cy="125.87" r="1.7" fill="#42589a" fill-opacity="0.5"/>
<circle cx="307.79" cy="118.36" r="1.7" fill="#42589a" fill-opacity="0.5"/>
<circle cx="301.93" cy="120.91" r="1.7" fill="#42589a" fill-opacity="0.5"/>
<circle cx="323.49" cy="121.04" r="1.7" fill="#42589a" fill-opacity="0.5"/>
<circle cx="328.37" cy="123.63" r="1.7" fill="#42589a" fill-opacity="0.5"/>
<circle cx="310.90" cy="99.00" r="1.7" fill="#42589a" fill-opacity="0.5"/>
<circle cx="292.00" cy="148.00" r="1.7" fill="#42589a" fill-opacity="0.5"/>
<circle cx="324.60" cy="144.40" r="1.7" fill="#42589a" fill-opacity="0.5"/>
<circle cx="328.40" cy="131.70" r="1.7" fill="#42589a" fill-opacity="0.5"/>
<circle cx="319.90" cy="134.60" r="1.7" fill="#42589a" fill-opacity="0.5"/>
<circle cx="297.20" cy="132.30" r="1.7" fill="#42589a" fill-opacity="0.5"/>
<circle cx="302.30" cy="130.00" r="1.7" fill="#42589a" fill-opacity="0.5"/>
<circle cx="296.80" cy="108.50" r="1.7" fill="#42589a" fill-opacity="0.5"/>
<circle cx="302.00" cy="107.00" r="1.7" fill="#42589a" fill-opacity="0.5"/>
<circle cx="321.00" cy="108.40" r="1.7" fill="#42589a" fill-opacity="0.5"/>
<circle cx="293.50" cy="125.00" r="1.7" fill="#42589a" fill-opacity="0.5"/>
<circle cx="300.00" cy="127.00" r="1.7" fill="#42589a" fill-opacity="0.5"/>
<circle cx="307.00" cy="130.50" r="1.9" fill="#2a3a6a" fill-opacity="0.8"/>
<circle cx="357.40" cy="125.50" r="1.8" fill="#8c9ac0" fill-opacity="0.85"/>
<circle cx="383.80" cy="125.80" r="1.8" fill="#8c9ac0" fill-opacity="0.85"/>
<circle cx="390.10" cy="128.80" r="1.8" fill="#8c9ac0" fill-opacity="0.85"/>
<circle cx="362.50" cy="135.30" r="1.8" fill="#a8b2d0" fill-opacity="0.85"/>
<circle cx="372.60" cy="132.60" r="1.8" fill="#7a8ab8" fill-opacity="0.85"/>
<circle cx="391.40" cy="139.90" r="1.8" fill="#8c9ac0" fill-opacity="0.85"/>
<circle cx="387.00" cy="146.60" r="1.8" fill="#8c9ac0" fill-opacity="0.85"/>
<circle cx="379.70" cy="156.40" r="1.8" fill="#8c9ac0" fill-opacity="0.85"/>
<rect x="354.20" y="130.50" width="36.30" height="12.10" fill="none" stroke="#1a1a1a" stroke-width="0.9" rx="0"/>
<line x1="354.20" y1="136.00" x2="390.50" y2="136.00" stroke="#111" stroke-width="1.6"/>
<line x1="372.60" y1="125.50" x2="372.60" y2="130.50" stroke="#111" stroke-width="0.8"/>
<line x1="372.60" y1="142.60" x2="372.60" y2="156.40" stroke="#111" stroke-width="0.8"/>
<circle cx="378.00" cy="142.30" r="2.2" fill="#b0122c"/>
<text x="405.60" y="127.40" font-size="7.4" text-anchor="middle" fill="#333" textLength="19.20" lengthAdjust="spacingAndGlyphs" transform="rotate(90 405.60 127.40)">AMO-1</text>
<text x="8.50" y="177.80" font-size="11.0" text-anchor="start" fill="#111" font-weight="bold">C</text>
<path d="M58.60,186.20 L78.00,188.80 L96.50,191.80 L116.50,193.80 L134.20,194.20 L151.50,195.00 L159.20,195.40 L193.10,195.40 L193.10,204.60 L159.20,204.60 L151.50,199.60 L134.20,198.40 L116.50,197.20 L96.50,194.40 L78.00,190.20 L58.60,186.40 Z" fill="#9ec9ee" stroke="none" stroke-width="1" fill-opacity="0.75"/>
<path d="M58.60,186.20 L78.00,189.80 L96.50,194.80 L116.50,198.00 L134.20,199.60 L153.00,201.60 L160.00,202.80 L170.00,205.50 L184.60,205.80 L184.60,194.60 L190.30,194.60 L190.30,228.50 L184.60,228.50 L184.60,212.40 L170.00,211.50 L160.00,208.20 L153.00,206.20 L134.20,203.60 L116.50,201.60 L96.50,197.80 L78.00,191.80 L58.60,186.40 Z" fill="#f7cf73" stroke="none" stroke-width="1" fill-opacity="0.7"/>
<path d="M58.60,186.20 L78.00,189.50 L96.50,193.00 L116.50,195.40 L134.20,196.20 L151.50,197.20 L159.20,197.20 L159.20,200.80 L193.10,200.80" fill="none" stroke="#3d8fd2" stroke-width="1.3" stroke-linejoin="round"/>
<path d="M58.60,186.20 L78.00,190.80 L96.50,196.20 L116.50,199.70 L134.20,201.50 L153.00,203.80 L160.00,205.40 L170.00,208.50 L184.60,209.20 L184.60,217.70 L190.00,217.70" fill="none" stroke="#f2a71b" stroke-width="1.3" stroke-linejoin="round"/>
<line x1="58.60" y1="185.20" x2="58.60" y2="237.40" stroke="#222" stroke-width="1.1"/>
<line x1="58.10" y1="237.40" x2="209.50" y2="237.40" stroke="#222" stroke-width="1.1"/>
<line x1="56.20" y1="186.20" x2="58.60" y2="186.20" stroke="#222" stroke-width="0.9"/>
<text x="52.30" y="189.10" font-size="6.5" text-anchor="end" fill="#333" textLength="12.50" lengthAdjust="spacingAndGlyphs">1.00</text>
<line x1="56.20" y1="198.90" x2="58.60" y2="198.90" stroke="#222" stroke-width="0.9"/>
<text x="52.30" y="201.80" font-size="6.5" text-anchor="end" fill="#333" textLength="12.50" lengthAdjust="spacingAndGlyphs">0.75</text>
<line x1="56.20" y1="211.70" x2="58.60" y2="211.70" stroke="#222" stroke-width="0.9"/>
<text x="52.30" y="214.60" font-size="6.5" text-anchor="end" fill="#333" textLength="12.50" lengthAdjust="spacingAndGlyphs">0.50</text>
<line x1="56.20" y1="224.50" x2="58.60" y2="224.50" stroke="#222" stroke-width="0.9"/>
<text x="52.30" y="227.40" font-size="6.5" text-anchor="end" fill="#333" textLength="12.50" lengthAdjust="spacingAndGlyphs">0.25</text>
<line x1="56.20" y1="237.30" x2="58.60" y2="237.30" stroke="#222" stroke-width="0.9"/>
<text x="52.30" y="240.20" font-size="6.5" text-anchor="end" fill="#333" textLength="12.50" lengthAdjust="spacingAndGlyphs">0.00</text>
<line x1="58.60" y1="237.40" x2="58.60" y2="239.70" stroke="#222" stroke-width="0.9"/>
<text x="58.60" y="248.85" font-size="6.3" text-anchor="middle" fill="#333">0</text>
<line x1="87.40" y1="237.40" x2="87.40" y2="239.70" stroke="#222" stroke-width="0.9"/>
<text x="87.40" y="248.85" font-size="6.3" text-anchor="middle" fill="#333">500</text>
<line x1="116.20" y1="237.40" x2="116.20" y2="239.70" stroke="#222" stroke-width="0.9"/>
<text x="116.20" y="248.85" font-size="6.3" text-anchor="middle" fill="#333">1000</text>
<line x1="145.00" y1="237.40" x2="145.00" y2="239.70" stroke="#222" stroke-width="0.9"/>
<text x="145.00" y="248.85" font-size="6.3" text-anchor="middle" fill="#333">1500</text>
<line x1="173.70" y1="237.40" x2="173.70" y2="239.70" stroke="#222" stroke-width="0.9"/>
<text x="173.70" y="248.85" font-size="6.3" text-anchor="middle" fill="#333">2000</text>
<line x1="202.50" y1="237.40" x2="202.50" y2="239.70" stroke="#222" stroke-width="0.9"/>
<text x="202.50" y="248.85" font-size="6.3" text-anchor="middle" fill="#333">2500</text>
<text x="65.80" y="224.10" font-size="6.4" text-anchor="start" fill="#333" textLength="52.60" lengthAdjust="spacingAndGlyphs">Cox’s reg <tspan font-style="italic">P</tspan> = .008</text>
<text x="65.80" y="231.80" font-size="6.4" text-anchor="start" fill="#333" textLength="99.00" lengthAdjust="spacingAndGlyphs"><tspan font-style="italic">Kaplan-Meier (rank-test) P</tspan> = .0052</text>
<text x="25.00" y="211.40" font-size="7.2" text-anchor="middle" fill="#333" textLength="21.60" lengthAdjust="spacingAndGlyphs" transform="rotate(-90 25.00 211.40)">Overall</text>
<text x="33.20" y="210.40" font-size="7.2" text-anchor="middle" fill="#333" textLength="42.20" lengthAdjust="spacingAndGlyphs" transform="rotate(-90 33.20 210.40)">survival prob.</text>
<path d="M58.60,260.50 L81.00,266.30 L96.50,268.60 L107.20,269.60 L111.80,272.20 L122.60,274.20 L134.90,277.60 L148.80,281.80 L167.60,283.40 L184.80,283.40 L184.80,288.00 L193.00,288.00 L193.00,276.20 L197.00,276.20 L197.00,308.10 L193.00,308.10 L193.00,298.00 L184.80,298.00 L184.80,293.20 L167.60,293.20 L148.80,290.00 L134.90,285.00 L122.60,280.80 L111.80,278.20 L107.20,274.80 L96.50,272.60 L81.00,268.70 L58.60,260.70 Z" fill="#9ec9ee" stroke="none" stroke-width="1" fill-opacity="0.75"/>
<path d="M58.60,260.50 L81.00,267.20 L96.50,273.40 L107.20,277.60 L119.50,281.80 L134.90,286.20 L151.20,291.80 L165.10,295.00 L184.00,296.80 L200.60,297.00 L200.60,292.60 L206.00,292.60 L206.00,307.30 L200.60,307.30 L200.60,301.00 L184.00,300.80 L165.10,298.40 L151.20,295.00 L134.90,288.80 L119.50,284.20 L107.20,280.00 L96.50,275.60 L81.00,268.80 L58.60,260.70 Z" fill="#f7cf73" stroke="none" stroke-width="1" fill-opacity="0.7"/>
<path d="M58.60,260.50 L81.00,267.50 L96.50,270.60 L107.20,272.20 L111.80,275.20 L122.60,277.50 L134.90,281.40 L148.80,286.00 L167.60,289.30 L184.80,289.50 L184.80,294.20 L193.00,294.20 L193.00,303.20 L197.00,303.20" fill="none" stroke="#3d8fd2" stroke-width="1.3" stroke-linejoin="round"/>
<path d="M58.60,260.50 L81.00,268.00 L96.50,274.50 L107.20,278.80 L119.50,283.00 L134.90,287.50 L151.20,293.40 L165.10,296.70 L184.00,298.80 L200.30,298.80 L200.30,302.40 L206.00,302.40" fill="none" stroke="#f2a71b" stroke-width="1.3" stroke-linejoin="round"/>
<line x1="58.60" y1="259.80" x2="58.60" y2="310.90" stroke="#222" stroke-width="1.1"/>
<line x1="58.10" y1="310.90" x2="209.50" y2="310.90" stroke="#222" stroke-width="1.1"/>
<line x1="56.20" y1="260.80" x2="58.60" y2="260.80" stroke="#222" stroke-width="0.9"/>
<text x="52.30" y="263.70" font-size="6.5" text-anchor="end" fill="#333" textLength="12.50" lengthAdjust="spacingAndGlyphs">1.00</text>
<line x1="56.20" y1="273.30" x2="58.60" y2="273.30" stroke="#222" stroke-width="0.9"/>
<text x="52.30" y="276.20" font-size="6.5" text-anchor="end" fill="#333" textLength="12.50" lengthAdjust="spacingAndGlyphs">0.75</text>
<line x1="56.20" y1="285.80" x2="58.60" y2="285.80" stroke="#222" stroke-width="0.9"/>
<text x="52.30" y="288.70" font-size="6.5" text-anchor="end" fill="#333" textLength="12.50" lengthAdjust="spacingAndGlyphs">0.50</text>
<line x1="56.20" y1="298.30" x2="58.60" y2="298.30" stroke="#222" stroke-width="0.9"/>
<text x="52.30" y="301.20" font-size="6.5" text-anchor="end" fill="#333" textLength="12.50" lengthAdjust="spacingAndGlyphs">0.25</text>
<line x1="56.20" y1="310.80" x2="58.60" y2="310.80" stroke="#222" stroke-width="0.9"/>
<text x="52.30" y="313.70" font-size="6.5" text-anchor="end" fill="#333" textLength="12.50" lengthAdjust="spacingAndGlyphs">0.00</text>
<line x1="58.60" y1="310.90" x2="58.60" y2="313.20" stroke="#222" stroke-width="0.9"/>
<text x="58.60" y="323.25" font-size="6.3" text-anchor="middle" fill="#333">0</text>
<line x1="94.40" y1="310.90" x2="94.40" y2="313.20" stroke="#222" stroke-width="0.9"/>
<text x="94.40" y="323.25" font-size="6.3" text-anchor="middle" fill="#333">500</text>
<line x1="130.30" y1="310.90" x2="130.30" y2="313.20" stroke="#222" stroke-width="0.9"/>
<text x="130.30" y="323.25" font-size="6.3" text-anchor="middle" fill="#333">1000</text>
<line x1="166.10" y1="310.90" x2="166.10" y2="313.20" stroke="#222" stroke-width="0.9"/>
<text x="166.10" y="323.25" font-size="6.3" text-anchor="middle" fill="#333">1500</text>
<line x1="201.90" y1="310.90" x2="201.90" y2="313.20" stroke="#222" stroke-width="0.9"/>
<text x="201.90" y="323.25" font-size="6.3" text-anchor="middle" fill="#333">2000</text>
<text x="63.20" y="299.60" font-size="6.4" text-anchor="start" fill="#333" textLength="42.00" lengthAdjust="spacingAndGlyphs">Cox’s reg <tspan font-style="italic">P</tspan> = .2</text>
<text x="63.00" y="306.80" font-size="6.4" text-anchor="start" fill="#333" textLength="98.80" lengthAdjust="spacingAndGlyphs"><tspan font-style="italic">Kaplan-Meier (rank-test) P</tspan> = .0068</text>
<text x="24.20" y="284.00" font-size="7.2" text-anchor="middle" fill="#333" textLength="49.40" lengthAdjust="spacingAndGlyphs" transform="rotate(-90 24.20 284.00)">Progression free</text>
<text x="33.20" y="283.50" font-size="7.2" text-anchor="middle" fill="#333" textLength="42.20" lengthAdjust="spacingAndGlyphs" transform="rotate(-90 33.20 283.50)">survival prob.</text>
<text x="130.20" y="335.40" font-size="8.2" text-anchor="middle" fill="#333" textLength="34.40" lengthAdjust="spacingAndGlyphs">Time (days)</text>
<text x="67.80" y="349.30" font-size="6.3" text-anchor="start" fill="#222" textLength="74.40" lengthAdjust="spacingAndGlyphs">RP11-350G8.5 expression:</text>
<rect x="147.30" y="345.00" width="4.40" height="4.40" fill="#f5c451" stroke="#e8b030" stroke-width="0.4" rx="0"/>
<text x="154.30" y="349.30" font-size="6.3" text-anchor="start" fill="#222" textLength="13.80" lengthAdjust="spacingAndGlyphs">High</text>
<rect x="172.50" y="345.00" width="4.20" height="4.40" fill="#7fb6e6" stroke="#5a9ad0" stroke-width="0.4" rx="0"/>
<text x="179.50" y="349.30" font-size="6.3" text-anchor="start" fill="#222" textLength="12.70" lengthAdjust="spacingAndGlyphs">Low</text>
<text x="219.00" y="178.20" font-size="11.0" text-anchor="start" fill="#111" font-weight="bold">D</text>
<line x1="251.20" y1="203.60" x2="251.20" y2="376.10" stroke="#222" stroke-width="1.1"/>
<line x1="250.70" y1="376.10" x2="319.80" y2="376.10" stroke="#222" stroke-width="1.1"/>
<line x1="248.80" y1="376.10" x2="251.20" y2="376.10" stroke="#222" stroke-width="0.9"/>
<text x="244.60" y="378.40" font-size="6.4" text-anchor="middle" fill="#333">0</text>
<line x1="248.80" y1="333.25" x2="251.20" y2="333.25" stroke="#222" stroke-width="0.9"/>
<text x="244.60" y="335.55" font-size="6.4" text-anchor="middle" fill="#333">1</text>
<line x1="248.80" y1="290.40" x2="251.20" y2="290.40" stroke="#222" stroke-width="0.9"/>
<text x="244.60" y="292.70" font-size="6.4" text-anchor="middle" fill="#333">2</text>
<line x1="248.80" y1="247.55" x2="251.20" y2="247.55" stroke="#222" stroke-width="0.9"/>
<text x="244.60" y="249.85" font-size="6.4" text-anchor="middle" fill="#333">3</text>
<line x1="248.80" y1="204.70" x2="251.20" y2="204.70" stroke="#222" stroke-width="0.9"/>
<text x="244.60" y="207.00" font-size="6.4" text-anchor="middle" fill="#333">4</text>
<line x1="264.40" y1="376.10" x2="264.40" y2="378.60" stroke="#222" stroke-width="0.9"/>
<line x1="279.70" y1="376.10" x2="279.70" y2="378.60" stroke="#222" stroke-width="0.9"/>
<line x1="295.20" y1="376.10" x2="295.20" y2="378.60" stroke="#222" stroke-width="0.9"/>
<line x1="310.60" y1="376.10" x2="310.60" y2="378.60" stroke="#222" stroke-width="0.9"/>
<text x="227.30" y="289.00" font-size="7.6" text-anchor="middle" fill="#333" textLength="44.60" lengthAdjust="spacingAndGlyphs" transform="rotate(-90 227.30 289.00)">RP11-350G8.5</text>
<text x="234.80" y="289.50" font-size="7.6" text-anchor="middle" fill="#333" textLength="72.00" lengthAdjust="spacingAndGlyphs" transform="rotate(-90 234.80 289.50)">expression log2 (FPKM+1)</text>
<line x1="273.40" y1="178.50" x2="311.50" y2="178.50" stroke="#666" stroke-width="0.8"/>
<line x1="273.40" y1="178.10" x2="273.40" y2="181.20" stroke="#666" stroke-width="0.8"/>
<line x1="311.50" y1="178.10" x2="311.50" y2="186.20" stroke="#666" stroke-width="0.8"/>
<line x1="264.20" y1="181.20" x2="280.30" y2="181.20" stroke="#666" stroke-width="0.8"/>
<line x1="264.20" y1="180.80" x2="264.20" y2="186.20" stroke="#666" stroke-width="0.8"/>
<line x1="280.30" y1="180.80" x2="280.30" y2="186.20" stroke="#666" stroke-width="0.8"/>
<line x1="264.20" y1="188.50" x2="311.50" y2="188.50" stroke="#666" stroke-width="0.8"/>
<line x1="264.20" y1="188.10" x2="264.20" y2="353.80" stroke="#666" stroke-width="0.8"/>
<line x1="311.50" y1="188.10" x2="311.50" y2="192.20" stroke="#666" stroke-width="0.8"/>
<line x1="280.30" y1="194.70" x2="311.50" y2="194.70" stroke="#666" stroke-width="0.8"/>
<line x1="280.30" y1="194.30" x2="280.30" y2="345.80" stroke="#666" stroke-width="0.8"/>
<line x1="311.50" y1="194.30" x2="311.50" y2="197.60" stroke="#666" stroke-width="0.8"/>
<line x1="295.60" y1="203.30" x2="311.50" y2="203.30" stroke="#666" stroke-width="0.8"/>
<line x1="295.60" y1="202.90" x2="295.60" y2="319.20" stroke="#666" stroke-width="0.8"/>
<line x1="311.50" y1="202.90" x2="311.50" y2="206.40" stroke="#666" stroke-width="0.8"/>
<text x="292.30" y="179.50" font-size="7.5" text-anchor="middle" fill="#333">***</text>
<text x="287.80" y="189.00" font-size="7.5" text-anchor="middle" fill="#333">**</text>
<text x="295.90" y="195.30" font-size="7.5" text-anchor="middle" fill="#333">*</text>
<text x="303.70" y="203.80" font-size="7.5" text-anchor="middle" fill="#333">***</text>
<text x="300.50" y="214.00" font-size="6.5" text-anchor="start" fill="#444" font-style="italic" textLength="21.80" lengthAdjust="spacingAndGlyphs"><tspan font-style="italic">n</tspan> = 768</text>
<text x="285.70" y="328.50" font-size="6.5" text-anchor="start" fill="#444" font-style="italic" textLength="22.50" lengthAdjust="spacingAndGlyphs"><tspan font-style="italic">n</tspan> = 120</text>
<text x="273.00" y="354.60" font-size="6.5" text-anchor="start" fill="#444" font-style="italic" textLength="14.70" lengthAdjust="spacingAndGlyphs"><tspan font-style="italic">n</tspan> = 4</text>
<text x="255.40" y="363.50" font-size="6.5" text-anchor="start" fill="#444" font-style="italic" textLength="18.90" lengthAdjust="spacingAndGlyphs"><tspan font-style="italic">n</tspan> = 14</text>
<line x1="264.40" y1="364.50" x2="264.40" y2="375.40" stroke="#333" stroke-width="0.9"/>
<rect x="260.10" y="368.80" width="8.60" height="3.00" fill="#a27fa8" stroke="none" stroke-width="0" rx="0"/>
<line x1="260.10" y1="370.30" x2="268.70" y2="370.30" stroke="#3b1d44" stroke-width="1.6"/>
<line x1="279.70" y1="365.20" x2="279.70" y2="370.20" stroke="#333" stroke-width="0.9"/>
<line x1="275.30" y1="367.60" x2="284.50" y2="367.60" stroke="#1a1a1a" stroke-width="1.7"/>
<line x1="295.20" y1="335.50" x2="295.20" y2="376.00" stroke="#333" stroke-width="0.9"/>
<rect x="290.70" y="358.10" width="9.30" height="13.30" fill="#a27fa8" stroke="none" stroke-width="0" rx="0"/>
<line x1="290.70" y1="365.40" x2="300.00" y2="365.40" stroke="#3b1d44" stroke-width="1.6"/>
<circle cx="295.20" cy="332.60" r="1.45" fill="#111"/>
<line x1="310.60" y1="305.00" x2="310.60" y2="376.00" stroke="#333" stroke-width="0.9"/>
<rect x="306.10" y="348.90" width="9.40" height="15.70" fill="#a27fa8" stroke="none" stroke-width="0" rx="0"/>
<line x1="306.10" y1="358.50" x2="315.50" y2="358.50" stroke="#3b1d44" stroke-width="1.6"/>
<circle cx="310.60" cy="218.30" r="1.45" fill="#111"/>
<circle cx="310.60" cy="235.60" r="1.45" fill="#111"/>
<circle cx="310.60" cy="262.40" r="1.45" fill="#111"/>
<circle cx="310.60" cy="274.00" r="1.45" fill="#111"/>
<circle cx="310.60" cy="281.00" r="1.45" fill="#111"/>
<circle cx="310.60" cy="295.00" r="1.45" fill="#111"/>
<circle cx="310.60" cy="296.80" r="1.45" fill="#111"/>
<circle cx="310.60" cy="301.40" r="1.45" fill="#111"/>
<circle cx="310.60" cy="305.30" r="1.45" fill="#111"/>
<rect x="309.15" y="308.3" width="2.9" height="15" rx="1.4" fill="#111"/>
<text x="268.40" y="385.40" font-size="7.3" text-anchor="end" fill="#333" textLength="33.50" lengthAdjust="spacingAndGlyphs" transform="rotate(-45 268.40 385.40)">Healthy PC</text>
<text x="283.70" y="385.40" font-size="7.3" text-anchor="end" fill="#333" textLength="39.50" lengthAdjust="spacingAndGlyphs" transform="rotate(-45 283.70 385.40)">Bone marrow</text>
<text x="299.20" y="385.40" font-size="7.3" text-anchor="end" fill="#333" textLength="43.50" lengthAdjust="spacingAndGlyphs" transform="rotate(-45 299.20 385.40)">Normal tissues</text>
<text x="314.60" y="385.40" font-size="7.3" text-anchor="end" fill="#333" textLength="38.50" lengthAdjust="spacingAndGlyphs" transform="rotate(-45 314.60 385.40)">MM patients</text>
<text x="318.10" y="402.60" font-size="7.5" text-anchor="middle" fill="#333">***</text>
<text x="318.20" y="410.40" font-size="7.5" text-anchor="middle" fill="#333">**</text>
<text x="318.40" y="417.90" font-size="7.5" text-anchor="middle" fill="#333">*</text>
<text x="325.90" y="401.10" font-size="6.6" text-anchor="start" fill="#444" font-style="italic">&lt; 5×10<tspan font-size="4.2" dy="-2.6">−10</tspan></text>
<text x="325.90" y="408.90" font-size="6.6" text-anchor="start" fill="#444" font-style="italic">= 4.5×10<tspan font-size="4.2" dy="-2.6">−6</tspan></text>
<text x="325.90" y="417.60" font-size="6.6" text-anchor="start" fill="#444" font-style="italic" textLength="22.00" lengthAdjust="spacingAndGlyphs">= 0.023</text>
<text x="366.60" y="177.20" font-size="11.0" text-anchor="start" fill="#111" font-weight="bold">F</text>
<text x="453.60" y="176.10" font-size="8.6" text-anchor="middle" fill="#222">Baseline</text>
<line x1="393.20" y1="180.00" x2="393.20" y2="233.60" stroke="#222" stroke-width="1.1"/>
<line x1="392.70" y1="233.60" x2="513.40" y2="233.60" stroke="#222" stroke-width="1.2"/>
<line x1="390.70" y1="193.68" x2="393.20" y2="193.68" stroke="#222" stroke-width="0.9"/>
<text x="388.00" y="195.98" font-size="6.4" text-anchor="end" fill="#333" textLength="9.00" lengthAdjust="spacingAndGlyphs">0.8</text>
<line x1="390.70" y1="210.04" x2="393.20" y2="210.04" stroke="#222" stroke-width="0.9"/>
<text x="388.00" y="212.34" font-size="6.4" text-anchor="end" fill="#333" textLength="9.00" lengthAdjust="spacingAndGlyphs">0.4</text>
<line x1="390.70" y1="226.40" x2="393.20" y2="226.40" stroke="#222" stroke-width="0.9"/>
<text x="388.00" y="228.70" font-size="6.4" text-anchor="end" fill="#333" textLength="9.00" lengthAdjust="spacingAndGlyphs">0.0</text>
<line x1="393.20" y1="233.60" x2="393.20" y2="236.10" stroke="#222" stroke-width="0.9"/>
<line x1="436.40" y1="233.60" x2="436.40" y2="236.10" stroke="#222" stroke-width="0.9"/>
<line x1="479.60" y1="233.60" x2="479.60" y2="236.10" stroke="#222" stroke-width="0.9"/>
<circle cx="416.01" cy="225.29" r="1.6" fill="#d0061f" fill-opacity="0.7"/>
<circle cx="497.23" cy="217.09" r="1.6" fill="#d0061f" fill-opacity="0.7"/>
<circle cx="422.84" cy="223.81" r="1.6" fill="#d0061f" fill-opacity="0.7"/>
<circle cx="501.59" cy="216.67" r="1.6" fill="#d0061f" fill-opacity="0.7"/>
<circle cx="493.65" cy="214.53" r="1.6" fill="#d0061f" fill-opacity="0.7"/>
<circle cx="482.24" cy="223.37" r="1.6" fill="#d0061f" fill-opacity="0.7"/>
<circle cx="478.26" cy="219.46" r="1.6" fill="#d0061f" fill-opacity="0.7"/>
<circle cx="477.16" cy="212.55" r="1.6" fill="#d0061f" fill-opacity="0.7"/>
<circle cx="464.96" cy="226.12" r="1.6" fill="#d0061f" fill-opacity="0.7"/>
<circle cx="469.35" cy="223.49" r="1.6" fill="#d0061f" fill-opacity="0.7"/>
<circle cx="456.17" cy="219.62" r="1.6" fill="#d0061f" fill-opacity="0.7"/>
<circle cx="479.05" cy="221.37" r="1.6" fill="#d0061f" fill-opacity="0.7"/>
<circle cx="418.26" cy="223.51" r="1.6" fill="#d0061f" fill-opacity="0.7"/>
<circle cx="441.58" cy="216.97" r="1.6" fill="#d0061f" fill-opacity="0.7"/>
<circle cx="427.13" cy="222.96" r="1.6" fill="#d0061f" fill-opacity="0.7"/>
<circle cx="447.67" cy="222.84" r="1.6" fill="#d0061f" fill-opacity="0.7"/>
<circle cx="442.48" cy="220.95" r="1.6" fill="#d0061f" fill-opacity="0.7"/>
<circle cx="454.72" cy="218.19" r="1.6" fill="#d0061f" fill-opacity="0.7"/>
<circle cx="442.33" cy="223.75" r="1.6" fill="#d0061f" fill-opacity="0.7"/>
<circle cx="442.02" cy="222.06" r="1.6" fill="#d0061f" fill-opacity="0.7"/>
<circle cx="414.82" cy="224.04" r="1.6" fill="#d0061f" fill-opacity="0.7"/>
<circle cx="440.58" cy="222.61" r="1.6" fill="#d0061f" fill-opacity="0.7"/>
<circle cx="486.51" cy="219.04" r="1.6" fill="#d0061f" fill-opacity="0.7"/>
<circle cx="443.33" cy="217.01" r="1.6" fill="#d0061f" fill-opacity="0.7"/>
<circle cx="475.58" cy="216.73" r="1.6" fill="#d0061f" fill-opacity="0.7"/>
<circle cx="445.02" cy="222.35" r="1.6" fill="#d0061f" fill-opacity="0.7"/>
<circle cx="445.26" cy="218.37" r="1.6" fill="#d0061f" fill-opacity="0.7"/>
<circle cx="416.41" cy="224.82" r="1.6" fill="#d0061f" fill-opacity="0.7"/>
<circle cx="439.39" cy="219.93" r="1.6" fill="#d0061f" fill-opacity="0.7"/>
<circle cx="406.91" cy="225.94" r="1.6" fill="#d0061f" fill-opacity="0.7"/>
<circle cx="439.65" cy="218.20" r="1.6" fill="#d0061f" fill-opacity="0.7"/>
<circle cx="430.92" cy="219.77" r="1.6" fill="#d0061f" fill-opacity="0.7"/>
<circle cx="427.20" cy="222.14" r="1.6" fill="#d0061f" fill-opacity="0.7"/>
<circle cx="487.93" cy="221.57" r="1.6" fill="#d0061f" fill-opacity="0.7"/>
<circle cx="437.59" cy="220.85" r="1.6" fill="#d0061f" fill-opacity="0.7"/>
<circle cx="472.98" cy="221.67" r="1.6" fill="#d0061f" fill-opacity="0.7"/>
<circle cx="463.86" cy="215.47" r="1.6" fill="#d0061f" fill-opacity="0.7"/>
<circle cx="461.99" cy="221.42" r="1.6" fill="#d0061f" fill-opacity="0.7"/>
<circle cx="419.29" cy="221.81" r="1.6" fill="#d0061f" fill-opacity="0.7"/>
<circle cx="495.74" cy="218.35" r="1.6" fill="#d0061f" fill-opacity="0.7"/>
<circle cx="461.54" cy="221.56" r="1.6" fill="#d0061f" fill-opacity="0.7"/>
<circle cx="503.57" cy="214.68" r="1.6" fill="#d0061f" fill-opacity="0.7"/>
<circle cx="492.10" cy="216.82" r="1.6" fill="#d0061f" fill-opacity="0.7"/>
<circle cx="485.95" cy="217.02" r="1.6" fill="#d0061f" fill-opacity="0.7"/>
<circle cx="450.48" cy="216.48" r="1.6" fill="#d0061f" fill-opacity="0.7"/>
<circle cx="482.99" cy="214.67" r="1.6" fill="#d0061f" fill-opacity="0.7"/>
<circle cx="410.81" cy="223.32" r="1.6" fill="#d0061f" fill-opacity="0.7"/>
<circle cx="452.16" cy="223.65" r="1.6" fill="#d0061f" fill-opacity="0.7"/>
<circle cx="461.89" cy="214.69" r="1.6" fill="#d0061f" fill-opacity="0.7"/>
<circle cx="500.91" cy="220.66" r="1.6" fill="#d0061f" fill-opacity="0.7"/>
<circle cx="435.88" cy="221.82" r="1.6" fill="#d0061f" fill-opacity="0.7"/>
<circle cx="473.53" cy="221.56" r="1.6" fill="#d0061f" fill-opacity="0.7"/>
<circle cx="463.28" cy="216.11" r="1.6" fill="#d0061f" fill-opacity="0.7"/>
<circle cx="468.56" cy="223.59" r="1.6" fill="#d0061f" fill-opacity="0.7"/>
<circle cx="426.47" cy="219.99" r="1.6" fill="#d0061f" fill-opacity="0.7"/>
<circle cx="461.22" cy="214.11" r="1.6" fill="#d0061f" fill-opacity="0.7"/>
<circle cx="441.76" cy="225.23" r="1.6" fill="#d0061f" fill-opacity="0.7"/>
<circle cx="444.65" cy="217.46" r="1.6" fill="#d0061f" fill-opacity="0.7"/>
<circle cx="505.42" cy="221.95" r="1.6" fill="#d0061f" fill-opacity="0.7"/>
<circle cx="432.34" cy="221.27" r="1.6" fill="#d0061f" fill-opacity="0.7"/>
<circle cx="488.64" cy="216.31" r="1.6" fill="#d0061f" fill-opacity="0.7"/>
<circle cx="505.85" cy="218.03" r="1.6" fill="#d0061f" fill-opacity="0.7"/>
<circle cx="488.23" cy="215.77" r="1.6" fill="#d0061f" fill-opacity="0.7"/>
<circle cx="480.04" cy="220.18" r="1.6" fill="#d0061f" fill-opacity="0.7"/>
<circle cx="437.96" cy="217.54" r="1.6" fill="#d0061f" fill-opacity="0.7"/>
<circle cx="452.75" cy="218.96" r="1.6" fill="#d0061f" fill-opacity="0.7"/>
<circle cx="449.60" cy="218.76" r="1.6" fill="#d0061f" fill-opacity="0.7"/>
<circle cx="417.52" cy="222.91" r="1.6" fill="#d0061f" fill-opacity="0.7"/>
<circle cx="493.59" cy="219.06" r="1.6" fill="#d0061f" fill-opacity="0.7"/>
<circle cx="449.49" cy="215.73" r="1.6" fill="#d0061f" fill-opacity="0.7"/>
<circle cx="485.21" cy="212.43" r="1.6" fill="#d0061f" fill-opacity="0.7"/>
<circle cx="472.60" cy="222.65" r="1.6" fill="#d0061f" fill-opacity="0.7"/>
<circle cx="429.66" cy="216.96" r="1.6" fill="#d0061f" fill-opacity="0.7"/>
<circle cx="484.09" cy="210.21" r="1.6" fill="#d0061f" fill-opacity="0.7"/>
<circle cx="430.16" cy="224.69" r="1.6" fill="#d0061f" fill-opacity="0.7"/>
<circle cx="442.41" cy="220.84" r="1.6" fill="#d0061f" fill-opacity="0.7"/>
<circle cx="492.22" cy="207.06" r="1.6" fill="#d0061f" fill-opacity="0.7"/>
<circle cx="450.03" cy="222.57" r="1.6" fill="#d0061f" fill-opacity="0.7"/>
<circle cx="459.86" cy="220.21" r="1.6" fill="#d0061f" fill-opacity="0.7"/>
<circle cx="444.01" cy="222.89" r="1.6" fill="#d0061f" fill-opacity="0.7"/>
<circle cx="450.20" cy="224.90" r="1.6" fill="#d0061f" fill-opacity="0.7"/>
<circle cx="501.04" cy="206.94" r="1.6" fill="#d0061f" fill-opacity="0.7"/>
<circle cx="415.99" cy="223.07" r="1.6" fill="#d0061f" fill-opacity="0.7"/>
<circle cx="417.88" cy="224.21" r="1.6" fill="#d0061f" fill-opacity="0.7"/>
<circle cx="412.11" cy="224.12" r="1.6" fill="#d0061f" fill-opacity="0.7"/>
<circle cx="473.88" cy="221.69" r="1.6" fill="#d0061f" fill-opacity="0.7"/>
<circle cx="492.24" cy="218.04" r="1.6" fill="#d0061f" fill-opacity="0.7"/>
<circle cx="417.90" cy="224.50" r="1.6" fill="#d0061f" fill-opacity="0.7"/>
<circle cx="488.53" cy="221.46" r="1.6" fill="#d0061f" fill-opacity="0.7"/>
<circle cx="463.77" cy="224.22" r="1.6" fill="#d0061f" fill-opacity="0.7"/>
<circle cx="490.37" cy="210.78" r="1.6" fill="#d0061f" fill-opacity="0.7"/>
<circle cx="483.72" cy="215.74" r="1.6" fill="#d0061f" fill-opacity="0.7"/>
<circle cx="420.27" cy="224.74" r="1.6" fill="#d0061f" fill-opacity="0.7"/>
<circle cx="505.92" cy="224.12" r="1.6" fill="#d0061f" fill-opacity="0.7"/>
<circle cx="501.09" cy="218.72" r="1.6" fill="#d0061f" fill-opacity="0.7"/>
<circle cx="480.73" cy="212.54" r="1.6" fill="#d0061f" fill-opacity="0.7"/>
<circle cx="414.88" cy="224.14" r="1.6" fill="#d0061f" fill-opacity="0.7"/>
<circle cx="505.73" cy="220.22" r="1.6" fill="#d0061f" fill-opacity="0.7"/>
<circle cx="482.67" cy="213.64" r="1.6" fill="#d0061f" fill-opacity="0.7"/>
<circle cx="484.53" cy="209.35" r="1.6" fill="#d0061f" fill-opacity="0.7"/>
<circle cx="469.05" cy="212.50" r="1.6" fill="#d0061f" fill-opacity="0.7"/>
<circle cx="400.32" cy="226.01" r="1.6" fill="#d0061f" fill-opacity="0.7"/>
<circle cx="427.35" cy="221.26" r="1.6" fill="#d0061f" fill-opacity="0.7"/>
<circle cx="437.89" cy="223.61" r="1.6" fill="#d0061f" fill-opacity="0.7"/>
<circle cx="467.12" cy="217.93" r="1.6" fill="#d0061f" fill-opacity="0.7"/>
<circle cx="440.76" cy="218.31" r="1.6" fill="#d0061f" fill-opacity="0.7"/>
<circle cx="416.35" cy="223.08" r="1.6" fill="#d0061f" fill-opacity="0.7"/>
<circle cx="492.27" cy="201.95" r="1.6" fill="#d0061f" fill-opacity="0.7"/>
<circle cx="468.67" cy="218.78" r="1.6" fill="#d0061f" fill-opacity="0.7"/>
<circle cx="490.09" cy="210.58" r="1.6" fill="#d0061f" fill-opacity="0.7"/>
<circle cx="468.82" cy="212.16" r="1.6" fill="#d0061f" fill-opacity="0.7"/>
<circle cx="487.47" cy="213.47" r="1.6" fill="#d0061f" fill-opacity="0.7"/>
<circle cx="436.59" cy="224.16" r="1.6" fill="#d0061f" fill-opacity="0.7"/>
<circle cx="402.27" cy="225.85" r="1.6" fill="#d0061f" fill-opacity="0.7"/>
<circle cx="400.16" cy="225.32" r="1.6" fill="#d0061f" fill-opacity="0.7"/>
<circle cx="475.52" cy="213.55" r="1.6" fill="#d0061f" fill-opacity="0.7"/>
<circle cx="472.30" cy="220.37" r="1.6" fill="#d0061f" fill-opacity="0.7"/>
<circle cx="459.57" cy="223.26" r="1.6" fill="#d0061f" fill-opacity="0.7"/>
<circle cx="456.49" cy="220.06" r="1.6" fill="#d0061f" fill-opacity="0.7"/>
<circle cx="479.72" cy="223.11" r="1.6" fill="#d0061f" fill-opacity="0.7"/>
<circle cx="472.31" cy="212.88" r="1.6" fill="#d0061f" fill-opacity="0.7"/>
<circle cx="495.82" cy="212.74" r="1.6" fill="#d0061f" fill-opacity="0.7"/>
<circle cx="447.40" cy="223.02" r="1.6" fill="#d0061f" fill-opacity="0.7"/>
<circle cx="418.43" cy="225.10" r="1.6" fill="#d0061f" fill-opacity="0.7"/>
<circle cx="490.68" cy="216.66" r="1.6" fill="#d0061f" fill-opacity="0.7"/>
<circle cx="438.92" cy="224.41" r="1.6" fill="#d0061f" fill-opacity="0.7"/>
<circle cx="448.45" cy="221.94" r="1.6" fill="#d0061f" fill-opacity="0.7"/>
<circle cx="473.58" cy="216.89" r="1.6" fill="#d0061f" fill-opacity="0.7"/>
<circle cx="487.81" cy="219.94" r="1.6" fill="#d0061f" fill-opacity="0.7"/>
<circle cx="455.46" cy="222.64" r="1.6" fill="#d0061f" fill-opacity="0.7"/>
<circle cx="453.75" cy="219.47" r="1.6" fill="#d0061f" fill-opacity="0.7"/>
<circle cx="467.01" cy="218.76" r="1.6" fill="#d0061f" fill-opacity="0.7"/>
<circle cx="418.55" cy="224.70" r="1.6" fill="#d0061f" fill-opacity="0.7"/>
<circle cx="440.14" cy="220.84" r="1.6" fill="#d0061f" fill-opacity="0.7"/>
<circle cx="427.44" cy="218.69" r="1.6" fill="#d0061f" fill-opacity="0.7"/>
<circle cx="491.13" cy="217.23" r="1.6" fill="#d0061f" fill-opacity="0.7"/>
<circle cx="400.15" cy="225.38" r="1.6" fill="#d0061f" fill-opacity="0.7"/>
<circle cx="467.84" cy="224.90" r="1.6" fill="#d0061f" fill-opacity="0.7"/>
<circle cx="444.82" cy="224.77" r="1.6" fill="#d0061f" fill-opacity="0.7"/>
<circle cx="447.14" cy="219.44" r="1.6" fill="#d0061f" fill-opacity="0.7"/>
<circle cx="447.72" cy="220.11" r="1.6" fill="#d0061f" fill-opacity="0.7"/>
<circle cx="495.10" cy="222.20" r="1.6" fill="#d0061f" fill-opacity="0.7"/>
<circle cx="469.94" cy="219.99" r="1.6" fill="#d0061f" fill-opacity="0.7"/>
<circle cx="470.50" cy="223.26" r="1.6" fill="#d0061f" fill-opacity="0.7"/>
<circle cx="423.73" cy="222.85" r="1.6" fill="#d0061f" fill-opacity="0.7"/>
<circle cx="444.38" cy="222.62" r="1.6" fill="#d0061f" fill-opacity="0.7"/>
<circle cx="453.21" cy="223.06" r="1.6" fill="#d0061f" fill-opacity="0.7"/>
<circle cx="504.44" cy="220.73" r="1.6" fill="#d0061f" fill-opacity="0.7"/>
<circle cx="465.49" cy="226.23" r="1.6" fill="#d0061f" fill-opacity="0.7"/>
<circle cx="399.54" cy="225.39" r="1.6" fill="#d0061f" fill-opacity="0.7"/>
<circle cx="443.13" cy="220.65" r="1.6" fill="#d0061f" fill-opacity="0.7"/>
<circle cx="416.43" cy="221.96" r="1.6" fill="#d0061f" fill-opacity="0.7"/>
<circle cx="502.53" cy="217.16" r="1.6" fill="#d0061f" fill-opacity="0.7"/>
<circle cx="415.76" cy="224.68" r="1.6" fill="#d0061f" fill-opacity="0.7"/>
<circle cx="402.51" cy="225.99" r="1.6" fill="#d0061f" fill-opacity="0.7"/>
<circle cx="416.66" cy="222.65" r="1.6" fill="#d0061f" fill-opacity="0.7"/>
<circle cx="492.17" cy="212.47" r="1.6" fill="#d0061f" fill-opacity="0.7"/>
<circle cx="479.78" cy="220.86" r="1.6" fill="#d0061f" fill-opacity="0.7"/>
<circle cx="460.70" cy="215.03" r="1.6" fill="#d0061f" fill-opacity="0.7"/>
<circle cx="452.64" cy="216.41" r="1.6" fill="#d0061f" fill-opacity="0.7"/>
<circle cx="460.34" cy="224.67" r="1.6" fill="#d0061f" fill-opacity="0.7"/>
<circle cx="451.68" cy="222.14" r="1.6" fill="#d0061f" fill-opacity="0.7"/>
<circle cx="401.76" cy="225.69" r="1.6" fill="#d0061f" fill-opacity="0.7"/>
<circle cx="446.41" cy="216.86" r="1.6" fill="#d0061f" fill-opacity="0.7"/>
<circle cx="457.87" cy="218.99" r="1.6" fill="#d0061f" fill-opacity="0.7"/>
<circle cx="420.11" cy="222.96" r="1.6" fill="#d0061f" fill-opacity="0.7"/>
<circle cx="484.91" cy="224.02" r="1.6" fill="#d0061f" fill-opacity="0.7"/>
<circle cx="503.95" cy="210.24" r="1.6" fill="#d0061f" fill-opacity="0.7"/>
<circle cx="457.23" cy="222.87" r="1.6" fill="#d0061f" fill-opacity="0.7"/>
<circle cx="495.01" cy="223.04" r="1.6" fill="#d0061f" fill-opacity="0.7"/>
<circle cx="455.88" cy="218.47" r="1.6" fill="#d0061f" fill-opacity="0.7"/>
<circle cx="405.30" cy="225.68" r="1.6" fill="#d0061f" fill-opacity="0.7"/>
<circle cx="417.70" cy="221.20" r="1.6" fill="#d0061f" fill-opacity="0.7"/>
<circle cx="498.98" cy="208.81" r="1.6" fill="#d0061f" fill-opacity="0.7"/>
<circle cx="494.81" cy="210.69" r="1.6" fill="#d0061f" fill-opacity="0.7"/>
<circle cx="469.20" cy="217.05" r="1.6" fill="#d0061f" fill-opacity="0.7"/>
<circle cx="481.17" cy="207.08" r="1.6" fill="#d0061f" fill-opacity="0.7"/>
<circle cx="473.97" cy="222.67" r="1.6" fill="#d0061f" fill-opacity="0.7"/>
<circle cx="439.02" cy="222.92" r="1.6" fill="#d0061f" fill-opacity="0.7"/>
<circle cx="439.61" cy="219.99" r="1.6" fill="#d0061f" fill-opacity="0.7"/>
<circle cx="474.05" cy="218.91" r="1.6" fill="#d0061f" fill-opacity="0.7"/>
<circle cx="500.10" cy="216.75" r="1.6" fill="#d0061f" fill-opacity="0.7"/>
<circle cx="461.25" cy="217.85" r="1.6" fill="#d0061f" fill-opacity="0.7"/>
<circle cx="400.20" cy="225.90" r="1.6" fill="#d0061f" fill-opacity="0.7"/>
<circle cx="476.17" cy="216.24" r="1.6" fill="#d0061f" fill-opacity="0.7"/>
<circle cx="469.28" cy="214.97" r="1.6" fill="#d0061f" fill-opacity="0.7"/>
<circle cx="499.20" cy="214.72" r="1.6" fill="#d0061f" fill-opacity="0.7"/>
<circle cx="442.47" cy="216.62" r="1.6" fill="#d0061f" fill-opacity="0.7"/>
<circle cx="437.80" cy="219.26" r="1.6" fill="#d0061f" fill-opacity="0.7"/>
<circle cx="442.62" cy="221.84" r="1.6" fill="#d0061f" fill-opacity="0.7"/>
<circle cx="481.29" cy="207.45" r="1.6" fill="#d0061f" fill-opacity="0.7"/>
<circle cx="475.23" cy="216.17" r="1.6" fill="#d0061f" fill-opacity="0.7"/>
<circle cx="501.05" cy="212.70" r="1.6" fill="#d0061f" fill-opacity="0.7"/>
<circle cx="489.01" cy="217.82" r="1.6" fill="#d0061f" fill-opacity="0.7"/>
<circle cx="438.86" cy="222.49" r="1.6" fill="#d0061f" fill-opacity="0.7"/>
<circle cx="455.30" cy="216.47" r="1.6" fill="#d0061f" fill-opacity="0.7"/>
<circle cx="475.16" cy="218.67" r="1.6" fill="#d0061f" fill-opacity="0.7"/>
<circle cx="453.91" cy="216.38" r="1.6" fill="#d0061f" fill-opacity="0.7"/>
<circle cx="490.71" cy="214.83" r="1.6" fill="#d0061f" fill-opacity="0.7"/>
<circle cx="445.33" cy="222.30" r="1.6" fill="#d0061f" fill-opacity="0.7"/>
<circle cx="477.37" cy="208.89" r="1.6" fill="#d0061f" fill-opacity="0.7"/>
<circle cx="446.56" cy="220.88" r="1.6" fill="#d0061f" fill-opacity="0.7"/>
<circle cx="497.29" cy="216.12" r="1.6" fill="#d0061f" fill-opacity="0.7"/>
<circle cx="448.74" cy="223.29" r="1.6" fill="#d0061f" fill-opacity="0.7"/>
<circle cx="426.31" cy="221.13" r="1.6" fill="#d0061f" fill-opacity="0.7"/>
<circle cx="481.99" cy="223.31" r="1.6" fill="#d0061f" fill-opacity="0.7"/>
<circle cx="499.22" cy="219.35" r="1.6" fill="#d0061f" fill-opacity="0.7"/>
<circle cx="430.73" cy="219.29" r="1.6" fill="#d0061f" fill-opacity="0.7"/>
<circle cx="491.50" cy="214.05" r="1.6" fill="#d0061f" fill-opacity="0.7"/>
<circle cx="400.36" cy="225.13" r="1.6" fill="#d0061f" fill-opacity="0.7"/>
<circle cx="438.07" cy="222.10" r="1.6" fill="#d0061f" fill-opacity="0.7"/>
<circle cx="490.55" cy="217.21" r="1.6" fill="#d0061f" fill-opacity="0.7"/>
<circle cx="444.94" cy="222.90" r="1.6" fill="#d0061f" fill-opacity="0.7"/>
<circle cx="502.34" cy="221.76" r="1.6" fill="#d0061f" fill-opacity="0.7"/>
<circle cx="484.93" cy="216.70" r="1.6" fill="#d0061f" fill-opacity="0.7"/>
<circle cx="399.44" cy="225.83" r="1.6" fill="#d0061f" fill-opacity="0.7"/>
<circle cx="439.51" cy="222.19" r="1.6" fill="#d0061f" fill-opacity="0.7"/>
<circle cx="478.01" cy="214.54" r="1.6" fill="#d0061f" fill-opacity="0.7"/>
<circle cx="483.61" cy="214.75" r="1.6" fill="#d0061f" fill-opacity="0.7"/>
<circle cx="441.69" cy="221.37" r="1.6" fill="#d0061f" fill-opacity="0.7"/>
<circle cx="437.94" cy="223.01" r="1.6" fill="#d0061f" fill-opacity="0.7"/>
<circle cx="472.08" cy="223.06" r="1.6" fill="#d0061f" fill-opacity="0.7"/>
<circle cx="491.67" cy="217.19" r="1.6" fill="#d0061f" fill-opacity="0.7"/>
<circle cx="475.53" cy="219.73" r="1.6" fill="#d0061f" fill-opacity="0.7"/>
<circle cx="424.58" cy="224.49" r="1.6" fill="#d0061f" fill-opacity="0.7"/>
<circle cx="437.73" cy="224.15" r="1.6" fill="#d0061f" fill-opacity="0.7"/>
<circle cx="458.34" cy="225.30" r="1.6" fill="#d0061f" fill-opacity="0.7"/>
<circle cx="444.45" cy="225.70" r="1.6" fill="#d0061f" fill-opacity="0.7"/>
<circle cx="471.41" cy="216.35" r="1.6" fill="#d0061f" fill-opacity="0.7"/>
<circle cx="450.24" cy="225.24" r="1.6" fill="#d0061f" fill-opacity="0.7"/>
<circle cx="444.41" cy="218.71" r="1.6" fill="#d0061f" fill-opacity="0.7"/>
<circle cx="462.34" cy="218.50" r="1.6" fill="#d0061f" fill-opacity="0.7"/>
<circle cx="477.02" cy="220.72" r="1.6" fill="#d0061f" fill-opacity="0.7"/>
<circle cx="460.63" cy="216.19" r="1.6" fill="#d0061f" fill-opacity="0.7"/>
<circle cx="456.62" cy="214.83" r="1.6" fill="#d0061f" fill-opacity="0.7"/>
<circle cx="429.31" cy="222.92" r="1.6" fill="#d0061f" fill-opacity="0.7"/>
<circle cx="439.62" cy="217.85" r="1.6" fill="#d0061f" fill-opacity="0.7"/>
<circle cx="430.68" cy="223.75" r="1.6" fill="#d0061f" fill-opacity="0.7"/>
<circle cx="504.70" cy="214.96" r="1.6" fill="#d0061f" fill-opacity="0.7"/>
<circle cx="397.48" cy="226.18" r="1.6" fill="#d0061f" fill-opacity="0.7"/>
<circle cx="476.86" cy="214.91" r="1.6" fill="#d0061f" fill-opacity="0.7"/>
<circle cx="459.51" cy="213.39" r="1.6" fill="#d0061f" fill-opacity="0.7"/>
<circle cx="451.53" cy="225.61" r="1.6" fill="#d0061f" fill-opacity="0.7"/>
<circle cx="486.57" cy="207.01" r="1.6" fill="#d0061f" fill-opacity="0.7"/>
<circle cx="472.03" cy="218.55" r="1.6" fill="#d0061f" fill-opacity="0.7"/>
<circle cx="433.75" cy="220.71" r="1.6" fill="#d0061f" fill-opacity="0.7"/>
<circle cx="435.85" cy="220.60" r="1.6" fill="#d0061f" fill-opacity="0.7"/>
<circle cx="437.58" cy="223.70" r="1.6" fill="#d0061f" fill-opacity="0.7"/>
<circle cx="460.15" cy="215.94" r="1.6" fill="#d0061f" fill-opacity="0.7"/>
<circle cx="499.10" cy="213.52" r="1.6" fill="#d0061f" fill-opacity="0.7"/>
<circle cx="487.70" cy="210.37" r="1.6" fill="#d0061f" fill-opacity="0.7"/>
<circle cx="489.78" cy="218.49" r="1.6" fill="#d0061f" fill-opacity="0.7"/>
<circle cx="506.03" cy="215.24" r="1.6" fill="#d0061f" fill-opacity="0.7"/>
<circle cx="443.15" cy="222.34" r="1.6" fill="#d0061f" fill-opacity="0.7"/>
<circle cx="499.91" cy="212.59" r="1.6" fill="#d0061f" fill-opacity="0.7"/>
<circle cx="443.22" cy="215.48" r="1.6" fill="#d0061f" fill-opacity="0.7"/>
<circle cx="485.56" cy="220.04" r="1.6" fill="#d0061f" fill-opacity="0.7"/>
<circle cx="462.09" cy="223.60" r="1.6" fill="#d0061f" fill-opacity="0.7"/>
<circle cx="438.15" cy="220.42" r="1.6" fill="#d0061f" fill-opacity="0.7"/>
<circle cx="432.14" cy="220.99" r="1.6" fill="#d0061f" fill-opacity="0.7"/>
<circle cx="402.49" cy="226.00" r="1.6" fill="#d0061f" fill-opacity="0.7"/>
<circle cx="439.87" cy="223.01" r="1.6" fill="#d0061f" fill-opacity="0.7"/>
<circle cx="495.91" cy="214.77" r="1.6" fill="#d0061f" fill-opacity="0.7"/>
<circle cx="448.34" cy="223.68" r="1.6" fill="#d0061f" fill-opacity="0.7"/>
<circle cx="463.80" cy="223.97" r="1.6" fill="#d0061f" fill-opacity="0.7"/>
<circle cx="472.19" cy="210.42" r="1.6" fill="#d0061f" fill-opacity="0.7"/>
<circle cx="470.15" cy="223.76" r="1.6" fill="#d0061f" fill-opacity="0.7"/>
<circle cx="416.31" cy="223.71" r="1.6" fill="#d0061f" fill-opacity="0.7"/>
<circle cx="412.41" cy="224.92" r="1.6" fill="#d0061f" fill-opacity="0.7"/>
<circle cx="451.86" cy="223.19" r="1.6" fill="#d0061f" fill-opacity="0.7"/>
<circle cx="470.81" cy="216.24" r="1.6" fill="#d0061f" fill-opacity="0.7"/>
<circle cx="484.15" cy="215.75" r="1.6" fill="#d0061f" fill-opacity="0.7"/>
<circle cx="499.03" cy="219.39" r="1.6" fill="#d0061f" fill-opacity="0.7"/>
<circle cx="430.84" cy="221.62" r="1.6" fill="#d0061f" fill-opacity="0.7"/>
<circle cx="441.03" cy="220.83" r="1.6" fill="#d0061f" fill-opacity="0.7"/>
<circle cx="442.16" cy="217.33" r="1.6" fill="#d0061f" fill-opacity="0.7"/>
<circle cx="485.62" cy="221.93" r="1.6" fill="#d0061f" fill-opacity="0.7"/>
<circle cx="488.76" cy="225.82" r="1.6" fill="#d0061f" fill-opacity="0.7"/>
<circle cx="479.21" cy="222.98" r="1.6" fill="#d0061f" fill-opacity="0.7"/>
<circle cx="412.92" cy="225.45" r="1.6" fill="#d0061f" fill-opacity="0.7"/>
<circle cx="406.66" cy="223.17" r="1.6" fill="#d0061f" fill-opacity="0.7"/>
<circle cx="452.82" cy="216.71" r="1.6" fill="#d0061f" fill-opacity="0.7"/>
<circle cx="496.26" cy="215.75" r="1.6" fill="#d0061f" fill-opacity="0.7"/>
<circle cx="444.57" cy="223.65" r="1.6" fill="#d0061f" fill-opacity="0.7"/>
<circle cx="427.62" cy="225.81" r="1.6" fill="#d0061f" fill-opacity="0.7"/>
<circle cx="437.17" cy="218.28" r="1.6" fill="#d0061f" fill-opacity="0.7"/>
<circle cx="452.92" cy="221.57" r="1.6" fill="#d0061f" fill-opacity="0.7"/>
<circle cx="485.70" cy="221.36" r="1.6" fill="#d0061f" fill-opacity="0.7"/>
<circle cx="406.00" cy="225.41" r="1.6" fill="#d0061f" fill-opacity="0.7"/>
<circle cx="465.40" cy="218.20" r="1.6" fill="#d0061f" fill-opacity="0.7"/>
<circle cx="448.60" cy="218.28" r="1.6" fill="#d0061f" fill-opacity="0.7"/>
<circle cx="494.25" cy="218.15" r="1.6" fill="#d0061f" fill-opacity="0.7"/>
<circle cx="446.99" cy="226.34" r="1.6" fill="#d0061f" fill-opacity="0.7"/>
<circle cx="460.38" cy="215.75" r="1.6" fill="#d0061f" fill-opacity="0.7"/>
<circle cx="479.50" cy="212.24" r="1.6" fill="#d0061f" fill-opacity="0.7"/>
<circle cx="499.17" cy="219.76" r="1.6" fill="#d0061f" fill-opacity="0.7"/>
<circle cx="454.05" cy="221.61" r="1.6" fill="#d0061f" fill-opacity="0.7"/>
<circle cx="398.97" cy="225.56" r="1.6" fill="#d0061f" fill-opacity="0.7"/>
<circle cx="444.06" cy="220.18" r="1.6" fill="#d0061f" fill-opacity="0.7"/>
<circle cx="422.94" cy="223.97" r="1.6" fill="#d0061f" fill-opacity="0.7"/>
<circle cx="411.90" cy="224.26" r="1.6" fill="#d0061f" fill-opacity="0.7"/>
<circle cx="418.74" cy="223.77" r="1.6" fill="#d0061f" fill-opacity="0.7"/>
<circle cx="498.77" cy="219.31" r="1.6" fill="#d0061f" fill-opacity="0.7"/>
<circle cx="425.51" cy="223.33" r="1.6" fill="#d0061f" fill-opacity="0.7"/>
<circle cx="490.71" cy="218.37" r="1.6" fill="#d0061f" fill-opacity="0.7"/>
<circle cx="434.58" cy="222.26" r="1.6" fill="#d0061f" fill-opacity="0.7"/>
<circle cx="455.89" cy="218.40" r="1.6" fill="#d0061f" fill-opacity="0.7"/>
<circle cx="495.23" cy="217.77" r="1.6" fill="#d0061f" fill-opacity="0.7"/>
<circle cx="501.95" cy="201.21" r="1.6" fill="#d0061f" fill-opacity="0.7"/>
<circle cx="503.41" cy="226.60" r="1.6" fill="#d0061f" fill-opacity="0.7"/>
<circle cx="441.13" cy="219.68" r="1.6" fill="#d0061f" fill-opacity="0.7"/>
<circle cx="456.43" cy="214.89" r="1.6" fill="#d0061f" fill-opacity="0.7"/>
<circle cx="462.10" cy="213.29" r="1.6" fill="#d0061f" fill-opacity="0.7"/>
<circle cx="451.89" cy="219.56" r="1.6" fill="#d0061f" fill-opacity="0.7"/>
<circle cx="430.39" cy="221.30" r="1.6" fill="#d0061f" fill-opacity="0.7"/>
<circle cx="428.23" cy="223.09" r="1.6" fill="#d0061f" fill-opacity="0.7"/>
<circle cx="475.81" cy="218.74" r="1.6" fill="#d0061f" fill-opacity="0.7"/>
<circle cx="444.86" cy="218.39" r="1.6" fill="#d0061f" fill-opacity="0.7"/>
<circle cx="447.60" cy="225.20" r="1.6" fill="#d0061f" fill-opacity="0.7"/>
<circle cx="492.79" cy="222.04" r="1.6" fill="#d0061f" fill-opacity="0.7"/>
<circle cx="483.20" cy="218.91" r="1.6" fill="#d0061f" fill-opacity="0.7"/>
<circle cx="498.07" cy="213.06" r="1.6" fill="#d0061f" fill-opacity="0.7"/>
<circle cx="448.52" cy="219.95" r="1.6" fill="#d0061f" fill-opacity="0.7"/>
<circle cx="437.32" cy="223.32" r="1.6" fill="#d0061f" fill-opacity="0.7"/>
<circle cx="455.24" cy="218.66" r="1.6" fill="#d0061f" fill-opacity="0.7"/>
<circle cx="472.34" cy="220.82" r="1.6" fill="#d0061f" fill-opacity="0.7"/>
<circle cx="492.85" cy="217.38" r="1.6" fill="#d0061f" fill-opacity="0.7"/>
<circle cx="416.73" cy="223.81" r="1.6" fill="#d0061f" fill-opacity="0.7"/>
<circle cx="500.91" cy="205.75" r="1.6" fill="#d0061f" fill-opacity="0.7"/>
<circle cx="461.29" cy="215.54" r="1.6" fill="#d0061f" fill-opacity="0.7"/>
<circle cx="471.93" cy="216.95" r="1.6" fill="#d0061f" fill-opacity="0.7"/>
<circle cx="433.98" cy="223.62" r="1.6" fill="#d0061f" fill-opacity="0.7"/>
<circle cx="479.36" cy="216.92" r="1.6" fill="#d0061f" fill-opacity="0.7"/>
<circle cx="502.61" cy="219.18" r="1.6" fill="#d0061f" fill-opacity="0.7"/>
<circle cx="478.92" cy="212.72" r="1.6" fill="#d0061f" fill-opacity="0.7"/>
<circle cx="453.43" cy="222.16" r="1.6" fill="#d0061f" fill-opacity="0.7"/>
<circle cx="436.42" cy="221.92" r="1.6" fill="#d0061f" fill-opacity="0.7"/>
<circle cx="466.09" cy="225.78" r="1.6" fill="#d0061f" fill-opacity="0.7"/>
<circle cx="502.40" cy="215.52" r="1.6" fill="#d0061f" fill-opacity="0.7"/>
<circle cx="416.45" cy="223.75" r="1.6" fill="#d0061f" fill-opacity="0.7"/>
<circle cx="485.74" cy="211.61" r="1.6" fill="#d0061f" fill-opacity="0.7"/>
<circle cx="414.86" cy="223.32" r="1.6" fill="#d0061f" fill-opacity="0.7"/>
<circle cx="417.05" cy="222.58" r="1.6" fill="#d0061f" fill-opacity="0.7"/>
<circle cx="497.79" cy="226.36" r="1.6" fill="#d0061f" fill-opacity="0.7"/>
<circle cx="467.91" cy="219.17" r="1.6" fill="#d0061f" fill-opacity="0.7"/>
<circle cx="433.61" cy="221.67" r="1.6" fill="#d0061f" fill-opacity="0.7"/>
<circle cx="427.52" cy="219.14" r="1.6" fill="#d0061f" fill-opacity="0.7"/>
<circle cx="480.55" cy="218.68" r="1.6" fill="#d0061f" fill-opacity="0.7"/>
<circle cx="489.91" cy="208.57" r="1.6" fill="#d0061f" fill-opacity="0.7"/>
<circle cx="448.90" cy="213.62" r="1.6" fill="#d0061f" fill-opacity="0.7"/>
<circle cx="468.55" cy="216.32" r="1.6" fill="#d0061f" fill-opacity="0.7"/>
<circle cx="465.45" cy="225.31" r="1.6" fill="#d0061f" fill-opacity="0.7"/>
<circle cx="474.99" cy="216.26" r="1.6" fill="#d0061f" fill-opacity="0.7"/>
<circle cx="423.03" cy="223.91" r="1.6" fill="#d0061f" fill-opacity="0.7"/>
<circle cx="464.55" cy="226.14" r="1.6" fill="#d0061f" fill-opacity="0.7"/>
<circle cx="459.08" cy="215.73" r="1.6" fill="#d0061f" fill-opacity="0.7"/>
<circle cx="493.13" cy="215.74" r="1.6" fill="#d0061f" fill-opacity="0.7"/>
<circle cx="403.96" cy="225.59" r="1.6" fill="#d0061f" fill-opacity="0.7"/>
<circle cx="449.34" cy="216.97" r="1.6" fill="#d0061f" fill-opacity="0.7"/>
<circle cx="471.97" cy="221.03" r="1.6" fill="#d0061f" fill-opacity="0.7"/>
<circle cx="464.15" cy="213.23" r="1.6" fill="#d0061f" fill-opacity="0.7"/>
<circle cx="469.08" cy="226.15" r="1.6" fill="#d0061f" fill-opacity="0.7"/>
<circle cx="433.12" cy="221.53" r="1.6" fill="#d0061f" fill-opacity="0.7"/>
<circle cx="481.37" cy="218.44" r="1.6" fill="#d0061f" fill-opacity="0.7"/>
<circle cx="459.55" cy="216.56" r="1.6" fill="#d0061f" fill-opacity="0.7"/>
<circle cx="414.87" cy="222.83" r="1.6" fill="#d0061f" fill-opacity="0.7"/>
<circle cx="467.69" cy="216.94" r="1.6" fill="#d0061f" fill-opacity="0.7"/>
<circle cx="401.07" cy="225.87" r="1.6" fill="#d0061f" fill-opacity="0.7"/>
<circle cx="485.87" cy="208.61" r="1.6" fill="#d0061f" fill-opacity="0.7"/>
<circle cx="500.06" cy="226.12" r="1.6" fill="#d0061f" fill-opacity="0.7"/>
<circle cx="458.36" cy="221.57" r="1.6" fill="#d0061f" fill-opacity="0.7"/>
<circle cx="478.36" cy="215.72" r="1.6" fill="#d0061f" fill-opacity="0.7"/>
<circle cx="415.30" cy="222.89" r="1.6" fill="#d0061f" fill-opacity="0.7"/>
<circle cx="441.56" cy="223.95" r="1.6" fill="#d0061f" fill-opacity="0.7"/>
<circle cx="420.56" cy="222.77" r="1.6" fill="#d0061f" fill-opacity="0.7"/>
<circle cx="504.09" cy="214.10" r="1.6" fill="#d0061f" fill-opacity="0.7"/>
<circle cx="445.07" cy="225.96" r="1.6" fill="#d0061f" fill-opacity="0.7"/>
<circle cx="423.92" cy="221.68" r="1.6" fill="#d0061f" fill-opacity="0.7"/>
<circle cx="397.23" cy="225.68" r="1.6" fill="#d0061f" fill-opacity="0.7"/>
<circle cx="486.80" cy="215.40" r="1.6" fill="#d0061f" fill-opacity="0.7"/>
<circle cx="442.11" cy="217.47" r="1.6" fill="#d0061f" fill-opacity="0.7"/>
<circle cx="430.85" cy="221.95" r="1.6" fill="#d0061f" fill-opacity="0.7"/>
<circle cx="482.63" cy="214.71" r="1.6" fill="#d0061f" fill-opacity="0.7"/>
<circle cx="482.38" cy="213.65" r="1.6" fill="#d0061f" fill-opacity="0.7"/>
<circle cx="505.02" cy="218.22" r="1.6" fill="#d0061f" fill-opacity="0.7"/>
<circle cx="486.09" cy="223.20" r="1.6" fill="#d0061f" fill-opacity="0.7"/>
<circle cx="440.44" cy="219.93" r="1.6" fill="#d0061f" fill-opacity="0.7"/>
<circle cx="462.44" cy="221.28" r="1.6" fill="#d0061f" fill-opacity="0.7"/>
<circle cx="494.79" cy="219.34" r="1.6" fill="#d0061f" fill-opacity="0.7"/>
<circle cx="421.26" cy="224.26" r="1.6" fill="#d0061f" fill-opacity="0.7"/>
<circle cx="504.59" cy="226.37" r="1.6" fill="#d0061f" fill-opacity="0.7"/>
<circle cx="441.57" cy="222.02" r="1.6" fill="#d0061f" fill-opacity="0.7"/>
<circle cx="422.25" cy="224.44" r="1.6" fill="#d0061f" fill-opacity="0.7"/>
<circle cx="452.89" cy="222.38" r="1.6" fill="#d0061f" fill-opacity="0.7"/>
<circle cx="458.66" cy="216.17" r="1.6" fill="#d0061f" fill-opacity="0.7"/>
<circle cx="474.07" cy="221.28" r="1.6" fill="#d0061f" fill-opacity="0.7"/>
<circle cx="470.67" cy="220.45" r="1.6" fill="#d0061f" fill-opacity="0.7"/>
<circle cx="449.14" cy="223.84" r="1.6" fill="#d0061f" fill-opacity="0.7"/>
<circle cx="495.40" cy="222.42" r="1.6" fill="#d0061f" fill-opacity="0.7"/>
<circle cx="437.69" cy="220.68" r="1.6" fill="#d0061f" fill-opacity="0.7"/>
<circle cx="470.18" cy="225.09" r="1.6" fill="#d0061f" fill-opacity="0.7"/>
<circle cx="493.45" cy="221.99" r="1.6" fill="#d0061f" fill-opacity="0.7"/>
<circle cx="467.31" cy="219.74" r="1.6" fill="#d0061f" fill-opacity="0.7"/>
<circle cx="490.93" cy="207.96" r="1.6" fill="#d0061f" fill-opacity="0.7"/>
<circle cx="442.10" cy="221.66" r="1.6" fill="#d0061f" fill-opacity="0.7"/>
<circle cx="455.19" cy="219.03" r="1.6" fill="#d0061f" fill-opacity="0.7"/>
<circle cx="431.56" cy="224.12" r="1.6" fill="#d0061f" fill-opacity="0.7"/>
<circle cx="503.08" cy="221.38" r="1.6" fill="#d0061f" fill-opacity="0.7"/>
<circle cx="482.64" cy="214.75" r="1.6" fill="#d0061f" fill-opacity="0.7"/>
<circle cx="480.58" cy="208.76" r="1.6" fill="#d0061f" fill-opacity="0.7"/>
<circle cx="400.03" cy="224.83" r="1.6" fill="#d0061f" fill-opacity="0.7"/>
<circle cx="454.64" cy="220.60" r="1.6" fill="#d0061f" fill-opacity="0.7"/>
<circle cx="462.95" cy="219.57" r="1.6" fill="#d0061f" fill-opacity="0.7"/>
<circle cx="479.89" cy="213.67" r="1.6" fill="#d0061f" fill-opacity="0.7"/>
<circle cx="502.65" cy="210.10" r="1.6" fill="#d0061f" fill-opacity="0.7"/>
<circle cx="428.46" cy="222.12" r="1.6" fill="#d0061f" fill-opacity="0.7"/>
<circle cx="440.27" cy="218.53" r="1.6" fill="#d0061f" fill-opacity="0.7"/>
<circle cx="404.94" cy="224.29" r="1.6" fill="#d0061f" fill-opacity="0.7"/>
<circle cx="463.04" cy="215.22" r="1.6" fill="#d0061f" fill-opacity="0.7"/>
<circle cx="399.85" cy="224.83" r="1.6" fill="#d0061f" fill-opacity="0.7"/>
<circle cx="433.64" cy="224.13" r="1.6" fill="#d0061f" fill-opacity="0.7"/>
<circle cx="480.75" cy="220.24" r="1.6" fill="#d0061f" fill-opacity="0.7"/>
<circle cx="497.90" cy="219.19" r="1.6" fill="#d0061f" fill-opacity="0.7"/>
<circle cx="435.82" cy="223.59" r="1.6" fill="#d0061f" fill-opacity="0.7"/>
<circle cx="451.59" cy="217.45" r="1.6" fill="#d0061f" fill-opacity="0.7"/>
<circle cx="441.65" cy="224.12" r="1.6" fill="#d0061f" fill-opacity="0.7"/>
<circle cx="494.94" cy="223.32" r="1.6" fill="#d0061f" fill-opacity="0.7"/>
<circle cx="506.07" cy="222.23" r="1.6" fill="#d0061f" fill-opacity="0.7"/>
<circle cx="490.12" cy="212.88" r="1.6" fill="#d0061f" fill-opacity="0.7"/>
<circle cx="466.86" cy="214.84" r="1.6" fill="#d0061f" fill-opacity="0.7"/>
<circle cx="427.41" cy="225.24" r="1.6" fill="#d0061f" fill-opacity="0.7"/>
<circle cx="450.65" cy="220.18" r="1.6" fill="#d0061f" fill-opacity="0.7"/>
<circle cx="499.52" cy="213.17" r="1.6" fill="#d0061f" fill-opacity="0.7"/>
<circle cx="478.48" cy="211.99" r="1.6" fill="#d0061f" fill-opacity="0.7"/>
<circle cx="416.77" cy="224.99" r="1.6" fill="#d0061f" fill-opacity="0.7"/>
<circle cx="447.88" cy="222.56" r="1.6" fill="#d0061f" fill-opacity="0.7"/>
<circle cx="475.32" cy="217.00" r="1.6" fill="#d0061f" fill-opacity="0.7"/>
<circle cx="394.89" cy="225.98" r="1.6" fill="#d0061f" fill-opacity="0.7"/>
<circle cx="473.95" cy="214.69" r="1.6" fill="#d0061f" fill-opacity="0.7"/>
<circle cx="443.32" cy="226.60" r="1.6" fill="#d0061f" fill-opacity="0.7"/>
<circle cx="488.03" cy="219.59" r="1.6" fill="#d0061f" fill-opacity="0.7"/>
<circle cx="450.46" cy="220.89" r="1.6" fill="#d0061f" fill-opacity="0.7"/>
<circle cx="412.10" cy="225.40" r="1.6" fill="#d0061f" fill-opacity="0.7"/>
<circle cx="415.80" cy="225.55" r="1.6" fill="#d0061f" fill-opacity="0.7"/>
<circle cx="430.81" cy="225.28" r="1.6" fill="#d0061f" fill-opacity="0.7"/>
<circle cx="435.01" cy="221.67" r="1.6" fill="#d0061f" fill-opacity="0.7"/>
<circle cx="442.48" cy="218.55" r="1.6" fill="#d0061f" fill-opacity="0.7"/>
<circle cx="477.28" cy="222.82" r="1.6" fill="#d0061f" fill-opacity="0.7"/>
<circle cx="485.72" cy="210.84" r="1.6" fill="#d0061f" fill-opacity="0.7"/>
<circle cx="407.62" cy="224.72" r="1.6" fill="#d0061f" fill-opacity="0.7"/>
<circle cx="450.55" cy="222.26" r="1.6" fill="#d0061f" fill-opacity="0.7"/>
<circle cx="501.10" cy="209.72" r="1.6" fill="#d0061f" fill-opacity="0.7"/>
<circle cx="483.92" cy="225.85" r="1.6" fill="#d0061f" fill-opacity="0.7"/>
<circle cx="441.36" cy="223.04" r="1.6" fill="#d0061f" fill-opacity="0.7"/>
<circle cx="462.84" cy="224.95" r="1.6" fill="#d0061f" fill-opacity="0.7"/>
<circle cx="448.49" cy="219.39" r="1.6" fill="#d0061f" fill-opacity="0.7"/>
<circle cx="443.62" cy="219.38" r="1.6" fill="#d0061f" fill-opacity="0.7"/>
<circle cx="467.42" cy="214.27" r="1.6" fill="#d0061f" fill-opacity="0.7"/>
<circle cx="455.74" cy="216.59" r="1.6" fill="#d0061f" fill-opacity="0.7"/>
<circle cx="405.51" cy="223.61" r="1.6" fill="#d0061f" fill-opacity="0.7"/>
<circle cx="426.80" cy="223.34" r="1.6" fill="#d0061f" fill-opacity="0.7"/>
<circle cx="486.68" cy="215.47" r="1.6" fill="#d0061f" fill-opacity="0.7"/>
<circle cx="473.25" cy="215.39" r="1.6" fill="#d0061f" fill-opacity="0.7"/>
<circle cx="474.61" cy="222.86" r="1.6" fill="#d0061f" fill-opacity="0.7"/>
<circle cx="401.21" cy="226.09" r="1.6" fill="#d0061f" fill-opacity="0.7"/>
<circle cx="456.25" cy="225.11" r="1.6" fill="#d0061f" fill-opacity="0.7"/>
<circle cx="431.52" cy="224.31" r="1.6" fill="#d0061f" fill-opacity="0.7"/>
<circle cx="504.44" cy="216.12" r="1.6" fill="#d0061f" fill-opacity="0.7"/>
<circle cx="454.11" cy="216.92" r="1.6" fill="#d0061f" fill-opacity="0.7"/>
<circle cx="443.93" cy="216.55" r="1.6" fill="#d0061f" fill-opacity="0.7"/>
<circle cx="499.60" cy="218.34" r="1.6" fill="#d0061f" fill-opacity="0.7"/>
<circle cx="461.07" cy="216.04" r="1.6" fill="#d0061f" fill-opacity="0.7"/>
<circle cx="488.98" cy="213.15" r="1.6" fill="#d0061f" fill-opacity="0.7"/>
<circle cx="433.91" cy="222.35" r="1.6" fill="#d0061f" fill-opacity="0.7"/>
<circle cx="399.05" cy="226.37" r="1.6" fill="#d0061f" fill-opacity="0.7"/>
<circle cx="416.46" cy="223.95" r="1.6" fill="#d0061f" fill-opacity="0.7"/>
<circle cx="466.77" cy="223.76" r="1.6" fill="#d0061f" fill-opacity="0.7"/>
<circle cx="457.87" cy="219.52" r="1.6" fill="#d0061f" fill-opacity="0.7"/>
<circle cx="423.12" cy="223.01" r="1.6" fill="#d0061f" fill-opacity="0.7"/>
<circle cx="433.86" cy="225.32" r="1.6" fill="#d0061f" fill-opacity="0.7"/>
<circle cx="455.98" cy="212.93" r="1.6" fill="#d0061f" fill-opacity="0.7"/>
<circle cx="500.47" cy="212.59" r="1.6" fill="#d0061f" fill-opacity="0.7"/>
<circle cx="472.00" cy="217.28" r="1.6" fill="#d0061f" fill-opacity="0.7"/>
<circle cx="478.63" cy="223.81" r="1.6" fill="#d0061f" fill-opacity="0.7"/>
<circle cx="396.57" cy="225.91" r="1.6" fill="#d0061f" fill-opacity="0.7"/>
<circle cx="416.08" cy="221.24" r="1.6" fill="#d0061f" fill-opacity="0.7"/>
<circle cx="479.86" cy="214.98" r="1.6" fill="#d0061f" fill-opacity="0.7"/>
<circle cx="422.58" cy="222.86" r="1.6" fill="#d0061f" fill-opacity="0.7"/>
<circle cx="462.01" cy="219.92" r="1.6" fill="#d0061f" fill-opacity="0.7"/>
<circle cx="441.61" cy="222.02" r="1.6" fill="#d0061f" fill-opacity="0.7"/>
<circle cx="458.87" cy="216.15" r="1.6" fill="#d0061f" fill-opacity="0.7"/>
<circle cx="452.19" cy="216.70" r="1.6" fill="#d0061f" fill-opacity="0.7"/>
<circle cx="452.11" cy="215.95" r="1.6" fill="#d0061f" fill-opacity="0.7"/>
<circle cx="427.54" cy="222.56" r="1.6" fill="#d0061f" fill-opacity="0.7"/>
<circle cx="399.23" cy="224.70" r="1.6" fill="#d0061f" fill-opacity="0.7"/>
<circle cx="443.11" cy="222.88" r="1.6" fill="#d0061f" fill-opacity="0.7"/>
<circle cx="481.76" cy="216.82" r="1.6" fill="#d0061f" fill-opacity="0.7"/>
<circle cx="492.82" cy="214.52" r="1.6" fill="#d0061f" fill-opacity="0.7"/>
<circle cx="482.04" cy="213.07" r="1.6" fill="#d0061f" fill-opacity="0.7"/>
<circle cx="421.69" cy="223.08" r="1.6" fill="#d0061f" fill-opacity="0.7"/>
<circle cx="493.98" cy="211.41" r="1.6" fill="#d0061f" fill-opacity="0.7"/>
<circle cx="448.06" cy="222.40" r="1.6" fill="#d0061f" fill-opacity="0.7"/>
<circle cx="447.94" cy="221.41" r="1.6" fill="#d0061f" fill-opacity="0.7"/>
<circle cx="408.44" cy="224.22" r="1.6" fill="#d0061f" fill-opacity="0.7"/>
<circle cx="487.00" cy="210.55" r="1.6" fill="#d0061f" fill-opacity="0.7"/>
<circle cx="437.20" cy="221.32" r="1.6" fill="#d0061f" fill-opacity="0.7"/>
<circle cx="421.97" cy="223.94" r="1.6" fill="#d0061f" fill-opacity="0.7"/>
<circle cx="481.61" cy="218.13" r="1.6" fill="#d0061f" fill-opacity="0.7"/>
<circle cx="436.48" cy="218.82" r="1.6" fill="#d0061f" fill-opacity="0.7"/>
<circle cx="477.47" cy="217.81" r="1.6" fill="#d0061f" fill-opacity="0.7"/>
<circle cx="480.37" cy="209.75" r="1.6" fill="#d0061f" fill-opacity="0.7"/>
<circle cx="394.79" cy="225.99" r="1.6" fill="#d0061f" fill-opacity="0.7"/>
<circle cx="459.21" cy="217.65" r="1.6" fill="#d0061f" fill-opacity="0.7"/>
<circle cx="441.80" cy="222.88" r="1.6" fill="#d0061f" fill-opacity="0.7"/>
<circle cx="463.25" cy="217.82" r="1.6" fill="#d0061f" fill-opacity="0.7"/>
<circle cx="493.23" cy="211.18" r="1.6" fill="#d0061f" fill-opacity="0.7"/>
<circle cx="438.65" cy="221.51" r="1.6" fill="#d0061f" fill-opacity="0.7"/>
<circle cx="465.98" cy="213.95" r="1.6" fill="#d0061f" fill-opacity="0.7"/>
<circle cx="500.66" cy="206.86" r="1.6" fill="#d0061f" fill-opacity="0.7"/>
<circle cx="450.29" cy="221.26" r="1.6" fill="#d0061f" fill-opacity="0.7"/>
<circle cx="413.50" cy="226.36" r="1.6" fill="#d0061f" fill-opacity="0.7"/>
<circle cx="431.13" cy="221.91" r="1.6" fill="#d0061f" fill-opacity="0.7"/>
<circle cx="457.87" cy="223.54" r="1.6" fill="#d0061f" fill-opacity="0.7"/>
<circle cx="427.32" cy="220.86" r="1.6" fill="#d0061f" fill-opacity="0.7"/>
<circle cx="467.79" cy="220.93" r="1.6" fill="#d0061f" fill-opacity="0.7"/>
<circle cx="443.19" cy="220.70" r="1.6" fill="#d0061f" fill-opacity="0.7"/>
<circle cx="475.07" cy="223.83" r="1.6" fill="#d0061f" fill-opacity="0.7"/>
<circle cx="406.44" cy="225.16" r="1.6" fill="#d0061f" fill-opacity="0.7"/>
<circle cx="425.73" cy="221.97" r="1.6" fill="#d0061f" fill-opacity="0.7"/>
<circle cx="412.74" cy="225.17" r="1.6" fill="#d0061f" fill-opacity="0.7"/>
<circle cx="445.85" cy="220.92" r="1.6" fill="#d0061f" fill-opacity="0.7"/>
<circle cx="481.54" cy="220.31" r="1.6" fill="#d0061f" fill-opacity="0.7"/>
<circle cx="493.82" cy="223.90" r="1.6" fill="#d0061f" fill-opacity="0.7"/>
<circle cx="461.95" cy="223.87" r="1.6" fill="#d0061f" fill-opacity="0.7"/>
<circle cx="478.37" cy="217.65" r="1.6" fill="#d0061f" fill-opacity="0.7"/>
<circle cx="408.65" cy="225.55" r="1.6" fill="#d0061f" fill-opacity="0.7"/>
<circle cx="437.23" cy="218.53" r="1.6" fill="#d0061f" fill-opacity="0.7"/>
<circle cx="500.00" cy="219.32" r="1.6" fill="#d0061f" fill-opacity="0.7"/>
<circle cx="449.16" cy="221.52" r="1.6" fill="#d0061f" fill-opacity="0.7"/>
<circle cx="488.65" cy="214.86" r="1.6" fill="#d0061f" fill-opacity="0.7"/>
<circle cx="476.24" cy="210.89" r="1.6" fill="#d0061f" fill-opacity="0.7"/>
<circle cx="499.64" cy="219.40" r="1.6" fill="#d0061f" fill-opacity="0.7"/>
<circle cx="505.46" cy="224.81" r="1.6" fill="#d0061f" fill-opacity="0.7"/>
<circle cx="487.71" cy="213.62" r="1.6" fill="#d0061f" fill-opacity="0.7"/>
<circle cx="395.45" cy="225.75" r="1.6" fill="#d0061f" fill-opacity="0.7"/>
<circle cx="462.64" cy="218.58" r="1.6" fill="#d0061f" fill-opacity="0.7"/>
<circle cx="394.52" cy="226.03" r="1.6" fill="#d0061f" fill-opacity="0.7"/>
<circle cx="449.11" cy="223.41" r="1.6" fill="#d0061f" fill-opacity="0.7"/>
<circle cx="485.88" cy="215.68" r="1.6" fill="#d0061f" fill-opacity="0.7"/>
<circle cx="504.28" cy="215.39" r="1.6" fill="#d0061f" fill-opacity="0.7"/>
<circle cx="497.98" cy="205.71" r="1.6" fill="#d0061f" fill-opacity="0.7"/>
<circle cx="416.80" cy="225.10" r="1.6" fill="#d0061f" fill-opacity="0.7"/>
<circle cx="488.74" cy="219.99" r="1.6" fill="#d0061f" fill-opacity="0.7"/>
<circle cx="501.70" cy="213.64" r="1.6" fill="#d0061f" fill-opacity="0.7"/>
<circle cx="442.39" cy="219.93" r="1.6" fill="#d0061f" fill-opacity="0.7"/>
<circle cx="484.58" cy="215.45" r="1.6" fill="#d0061f" fill-opacity="0.7"/>
<circle cx="490.08" cy="218.41" r="1.6" fill="#d0061f" fill-opacity="0.7"/>
<circle cx="495.61" cy="210.72" r="1.6" fill="#d0061f" fill-opacity="0.7"/>
<circle cx="502.39" cy="213.45" r="1.6" fill="#d0061f" fill-opacity="0.7"/>
<circle cx="404.19" cy="225.70" r="1.6" fill="#d0061f" fill-opacity="0.7"/>
<circle cx="500.28" cy="215.17" r="1.6" fill="#d0061f" fill-opacity="0.7"/>
<circle cx="448.60" cy="223.07" r="1.6" fill="#d0061f" fill-opacity="0.7"/>
<circle cx="489.97" cy="219.52" r="1.6" fill="#d0061f" fill-opacity="0.7"/>
<circle cx="479.10" cy="211.95" r="1.6" fill="#d0061f" fill-opacity="0.7"/>
<circle cx="477.87" cy="210.28" r="1.6" fill="#d0061f" fill-opacity="0.7"/>
<circle cx="432.86" cy="225.81" r="1.6" fill="#d0061f" fill-opacity="0.7"/>
<circle cx="446.85" cy="217.99" r="1.6" fill="#d0061f" fill-opacity="0.7"/>
<circle cx="430.98" cy="224.86" r="1.6" fill="#d0061f" fill-opacity="0.7"/>
<circle cx="420.82" cy="225.66" r="1.6" fill="#d0061f" fill-opacity="0.7"/>
<circle cx="464.73" cy="220.31" r="1.6" fill="#d0061f" fill-opacity="0.7"/>
<circle cx="427.26" cy="221.36" r="1.6" fill="#d0061f" fill-opacity="0.7"/>
<circle cx="465.16" cy="212.68" r="1.6" fill="#d0061f" fill-opacity="0.7"/>
<circle cx="444.12" cy="216.86" r="1.6" fill="#d0061f" fill-opacity="0.7"/>
<circle cx="421.30" cy="223.57" r="1.6" fill="#d0061f" fill-opacity="0.7"/>
<circle cx="442.39" cy="222.23" r="1.6" fill="#d0061f" fill-opacity="0.7"/>
<circle cx="444.68" cy="223.34" r="1.6" fill="#d0061f" fill-opacity="0.7"/>
<circle cx="503.05" cy="215.62" r="1.6" fill="#d0061f" fill-opacity="0.7"/>
<circle cx="447.68" cy="223.60" r="1.6" fill="#d0061f" fill-opacity="0.7"/>
<circle cx="455.42" cy="220.18" r="1.6" fill="#d0061f" fill-opacity="0.7"/>
<circle cx="424.71" cy="222.29" r="1.6" fill="#d0061f" fill-opacity="0.7"/>
<circle cx="473.74" cy="213.32" r="1.6" fill="#d0061f" fill-opacity="0.7"/>
<circle cx="455.92" cy="213.86" r="1.6" fill="#d0061f" fill-opacity="0.7"/>
<circle cx="436.77" cy="222.60" r="1.6" fill="#d0061f" fill-opacity="0.7"/>
<circle cx="454.46" cy="224.48" r="1.6" fill="#d0061f" fill-opacity="0.7"/>
<circle cx="469.21" cy="215.15" r="1.6" fill="#d0061f" fill-opacity="0.7"/>
<circle cx="502.77" cy="205.21" r="1.6" fill="#d0061f" fill-opacity="0.7"/>
<circle cx="452.32" cy="222.84" r="1.6" fill="#d0061f" fill-opacity="0.7"/>
<circle cx="498.07" cy="211.40" r="1.6" fill="#d0061f" fill-opacity="0.7"/>
<circle cx="482.61" cy="218.76" r="1.6" fill="#d0061f" fill-opacity="0.7"/>
<circle cx="485.46" cy="216.80" r="1.6" fill="#d0061f" fill-opacity="0.7"/>
<circle cx="417.46" cy="221.42" r="1.6" fill="#d0061f" fill-opacity="0.7"/>
<circle cx="418.56" cy="224.79" r="1.6" fill="#d0061f" fill-opacity="0.7"/>
<circle cx="417.50" cy="223.29" r="1.6" fill="#d0061f" fill-opacity="0.7"/>
<circle cx="402.12" cy="225.79" r="1.6" fill="#d0061f" fill-opacity="0.7"/>
<circle cx="465.13" cy="211.50" r="1.6" fill="#d0061f" fill-opacity="0.7"/>
<circle cx="490.06" cy="222.08" r="1.6" fill="#d0061f" fill-opacity="0.7"/>
<circle cx="420.76" cy="222.82" r="1.6" fill="#d0061f" fill-opacity="0.7"/>
<circle cx="480.03" cy="221.49" r="1.6" fill="#d0061f" fill-opacity="0.7"/>
<circle cx="431.71" cy="220.76" r="1.6" fill="#d0061f" fill-opacity="0.7"/>
<circle cx="463.45" cy="218.51" r="1.6" fill="#d0061f" fill-opacity="0.7"/>
<circle cx="456.14" cy="218.90" r="1.6" fill="#d0061f" fill-opacity="0.7"/>
<circle cx="476.28" cy="216.84" r="1.6" fill="#d0061f" fill-opacity="0.7"/>
<circle cx="476.87" cy="214.42" r="1.6" fill="#d0061f" fill-opacity="0.7"/>
<circle cx="470.45" cy="220.61" r="1.6" fill="#d0061f" fill-opacity="0.7"/>
<circle cx="503.78" cy="221.59" r="1.6" fill="#d0061f" fill-opacity="0.7"/>
<circle cx="441.75" cy="218.65" r="1.6" fill="#d0061f" fill-opacity="0.7"/>
<circle cx="461.69" cy="214.01" r="1.6" fill="#d0061f" fill-opacity="0.7"/>
<circle cx="465.73" cy="213.56" r="1.6" fill="#d0061f" fill-opacity="0.7"/>
<circle cx="457.32" cy="217.89" r="1.6" fill="#d0061f" fill-opacity="0.7"/>
<circle cx="438.41" cy="223.71" r="1.6" fill="#d0061f" fill-opacity="0.7"/>
<circle cx="473.25" cy="208.07" r="1.6" fill="#d0061f" fill-opacity="0.7"/>
<circle cx="480.27" cy="211.43" r="1.6" fill="#d0061f" fill-opacity="0.7"/>
<circle cx="463.33" cy="220.24" r="1.6" fill="#d0061f" fill-opacity="0.7"/>
<circle cx="465.20" cy="220.51" r="1.6" fill="#d0061f" fill-opacity="0.7"/>
<circle cx="460.28" cy="222.35" r="1.6" fill="#d0061f" fill-opacity="0.7"/>
<circle cx="464.16" cy="224.21" r="1.6" fill="#d0061f" fill-opacity="0.7"/>
<circle cx="497.85" cy="223.25" r="1.6" fill="#d0061f" fill-opacity="0.7"/>
<circle cx="442.18" cy="222.69" r="1.6" fill="#d0061f" fill-opacity="0.7"/>
<circle cx="418.33" cy="224.04" r="1.6" fill="#d0061f" fill-opacity="0.7"/>
<circle cx="427.87" cy="223.74" r="1.6" fill="#d0061f" fill-opacity="0.7"/>
<circle cx="444.03" cy="218.49" r="1.6" fill="#d0061f" fill-opacity="0.7"/>
<circle cx="502.70" cy="210.10" r="1.6" fill="#d0061f" fill-opacity="0.7"/>
<circle cx="442.70" cy="224.27" r="1.6" fill="#d0061f" fill-opacity="0.7"/>
<circle cx="423.75" cy="224.10" r="1.6" fill="#d0061f" fill-opacity="0.7"/>
<circle cx="458.19" cy="215.65" r="1.6" fill="#d0061f" fill-opacity="0.7"/>
<circle cx="439.34" cy="226.60" r="1.6" fill="#d0061f" fill-opacity="0.7"/>
<circle cx="436.91" cy="223.36" r="1.6" fill="#d0061f" fill-opacity="0.7"/>
<circle cx="495.63" cy="223.80" r="1.6" fill="#d0061f" fill-opacity="0.7"/>
<circle cx="468.11" cy="221.21" r="1.6" fill="#d0061f" fill-opacity="0.7"/>
<circle cx="462.00" cy="213.52" r="1.6" fill="#d0061f" fill-opacity="0.7"/>
<circle cx="465.51" cy="224.52" r="1.6" fill="#d0061f" fill-opacity="0.7"/>
<circle cx="440.85" cy="216.96" r="1.6" fill="#d0061f" fill-opacity="0.7"/>
<circle cx="500.23" cy="217.33" r="1.6" fill="#d0061f" fill-opacity="0.7"/>
<circle cx="409.61" cy="224.32" r="1.6" fill="#d0061f" fill-opacity="0.7"/>
<circle cx="478.69" cy="219.39" r="1.6" fill="#d0061f" fill-opacity="0.7"/>
<circle cx="448.22" cy="225.79" r="1.6" fill="#d0061f" fill-opacity="0.7"/>
<circle cx="458.47" cy="219.60" r="1.6" fill="#d0061f" fill-opacity="0.7"/>
<circle cx="502.25" cy="220.10" r="1.6" fill="#d0061f" fill-opacity="0.7"/>
<circle cx="486.08" cy="220.60" r="1.6" fill="#d0061f" fill-opacity="0.7"/>
<circle cx="435.43" cy="219.42" r="1.6" fill="#d0061f" fill-opacity="0.7"/>
<circle cx="505.20" cy="224.91" r="1.6" fill="#d0061f" fill-opacity="0.7"/>
<circle cx="466.07" cy="212.87" r="1.6" fill="#d0061f" fill-opacity="0.7"/>
<circle cx="464.57" cy="218.02" r="1.6" fill="#d0061f" fill-opacity="0.7"/>
<circle cx="489.50" cy="221.50" r="1.6" fill="#d0061f" fill-opacity="0.7"/>
<circle cx="423.63" cy="225.32" r="1.6" fill="#d0061f" fill-opacity="0.7"/>
<circle cx="429.11" cy="225.46" r="1.6" fill="#d0061f" fill-opacity="0.7"/>
<circle cx="443.06" cy="223.09" r="1.6" fill="#d0061f" fill-opacity="0.7"/>
<circle cx="429.33" cy="221.85" r="1.6" fill="#d0061f" fill-opacity="0.7"/>
<circle cx="466.46" cy="221.56" r="1.6" fill="#d0061f" fill-opacity="0.7"/>
<circle cx="458.14" cy="221.71" r="1.6" fill="#d0061f" fill-opacity="0.7"/>
<circle cx="494.22" cy="211.40" r="1.6" fill="#d0061f" fill-opacity="0.7"/>
<circle cx="491.35" cy="218.73" r="1.6" fill="#d0061f" fill-opacity="0.7"/>
<circle cx="481.81" cy="221.83" r="1.6" fill="#d0061f" fill-opacity="0.7"/>
<circle cx="486.08" cy="208.44" r="1.6" fill="#d0061f" fill-opacity="0.7"/>
<circle cx="425.93" cy="221.32" r="1.6" fill="#d0061f" fill-opacity="0.7"/>
<circle cx="417.03" cy="224.25" r="1.6" fill="#d0061f" fill-opacity="0.7"/>
<circle cx="410.31" cy="224.07" r="1.6" fill="#d0061f" fill-opacity="0.7"/>
<circle cx="434.73" cy="226.60" r="1.6" fill="#d0061f" fill-opacity="0.7"/>
<circle cx="417.07" cy="224.10" r="1.6" fill="#d0061f" fill-opacity="0.7"/>
<circle cx="420.80" cy="223.98" r="1.6" fill="#d0061f" fill-opacity="0.7"/>
<circle cx="471.23" cy="221.46" r="1.6" fill="#d0061f" fill-opacity="0.7"/>
<circle cx="477.32" cy="220.45" r="1.6" fill="#d0061f" fill-opacity="0.7"/>
<circle cx="409.39" cy="223.56" r="1.6" fill="#d0061f" fill-opacity="0.7"/>
<circle cx="440.67" cy="217.11" r="1.6" fill="#d0061f" fill-opacity="0.7"/>
<circle cx="455.66" cy="226.29" r="1.6" fill="#d0061f" fill-opacity="0.7"/>
<circle cx="422.65" cy="223.04" r="1.6" fill="#d0061f" fill-opacity="0.7"/>
<circle cx="399.35" cy="225.11" r="1.6" fill="#d0061f" fill-opacity="0.7"/>
<circle cx="469.11" cy="214.71" r="1.6" fill="#d0061f" fill-opacity="0.7"/>
<circle cx="472.32" cy="215.77" r="1.6" fill="#d0061f" fill-opacity="0.7"/>
<circle cx="476.28" cy="222.88" r="1.6" fill="#d0061f" fill-opacity="0.7"/>
<circle cx="396.05" cy="226.07" r="1.6" fill="#d0061f" fill-opacity="0.7"/>
<circle cx="395.09" cy="226.03" r="1.6" fill="#d0061f" fill-opacity="0.7"/>
<circle cx="431.77" cy="223.83" r="1.6" fill="#d0061f" fill-opacity="0.7"/>
<circle cx="431.55" cy="217.97" r="1.6" fill="#d0061f" fill-opacity="0.7"/>
<circle cx="436.66" cy="223.03" r="1.6" fill="#d0061f" fill-opacity="0.7"/>
<circle cx="447.80" cy="217.87" r="1.6" fill="#d0061f" fill-opacity="0.7"/>
<circle cx="450.20" cy="225.17" r="1.6" fill="#d0061f" fill-opacity="0.7"/>
<circle cx="415.24" cy="223.64" r="1.6" fill="#d0061f" fill-opacity="0.7"/>
<circle cx="434.62" cy="219.00" r="1.6" fill="#d0061f" fill-opacity="0.7"/>
<circle cx="458.23" cy="224.20" r="1.6" fill="#d0061f" fill-opacity="0.7"/>
<circle cx="502.34" cy="217.60" r="1.6" fill="#d0061f" fill-opacity="0.7"/>
<circle cx="442.01" cy="219.16" r="1.6" fill="#d0061f" fill-opacity="0.7"/>
<circle cx="436.79" cy="220.93" r="1.6" fill="#d0061f" fill-opacity="0.7"/>
<circle cx="488.77" cy="217.54" r="1.6" fill="#d0061f" fill-opacity="0.7"/>
<circle cx="417.87" cy="223.52" r="1.6" fill="#d0061f" fill-opacity="0.7"/>
<circle cx="407.57" cy="225.26" r="1.6" fill="#d0061f" fill-opacity="0.7"/>
<circle cx="502.56" cy="223.60" r="1.6" fill="#d0061f" fill-opacity="0.7"/>
<circle cx="500.21" cy="211.59" r="1.6" fill="#d0061f" fill-opacity="0.7"/>
<circle cx="422.30" cy="222.60" r="1.6" fill="#d0061f" fill-opacity="0.7"/>
<circle cx="430.24" cy="221.97" r="1.6" fill="#d0061f" fill-opacity="0.7"/>
<circle cx="432.02" cy="220.15" r="1.6" fill="#d0061f" fill-opacity="0.7"/>
<circle cx="450.40" cy="221.72" r="1.6" fill="#d0061f" fill-opacity="0.7"/>
<circle cx="452.78" cy="218.74" r="1.6" fill="#d0061f" fill-opacity="0.7"/>
<circle cx="501.45" cy="219.93" r="1.6" fill="#d0061f" fill-opacity="0.7"/>
<circle cx="470.53" cy="213.28" r="1.6" fill="#d0061f" fill-opacity="0.7"/>
<circle cx="463.59" cy="214.71" r="1.6" fill="#d0061f" fill-opacity="0.7"/>
<circle cx="440.90" cy="225.60" r="1.6" fill="#d0061f" fill-opacity="0.7"/>
<circle cx="454.98" cy="221.92" r="1.6" fill="#d0061f" fill-opacity="0.7"/>
<circle cx="489.08" cy="206.16" r="1.6" fill="#d0061f" fill-opacity="0.7"/>
<circle cx="474.97" cy="211.60" r="1.6" fill="#d0061f" fill-opacity="0.7"/>
<circle cx="438.14" cy="223.40" r="1.6" fill="#d0061f" fill-opacity="0.7"/>
<circle cx="467.39" cy="219.40" r="1.6" fill="#d0061f" fill-opacity="0.7"/>
<circle cx="477.30" cy="221.38" r="1.6" fill="#d0061f" fill-opacity="0.7"/>
<circle cx="480.04" cy="212.48" r="1.6" fill="#d0061f" fill-opacity="0.7"/>
<circle cx="436.63" cy="221.90" r="1.6" fill="#d0061f" fill-opacity="0.7"/>
<circle cx="499.49" cy="225.22" r="1.6" fill="#d0061f" fill-opacity="0.7"/>
<circle cx="456.78" cy="217.68" r="1.6" fill="#d0061f" fill-opacity="0.7"/>
<circle cx="482.95" cy="215.65" r="1.6" fill="#d0061f" fill-opacity="0.7"/>
<circle cx="501.78" cy="217.40" r="1.6" fill="#d0061f" fill-opacity="0.7"/>
<circle cx="423.80" cy="221.27" r="1.6" fill="#d0061f" fill-opacity="0.7"/>
<circle cx="467.71" cy="216.39" r="1.6" fill="#d0061f" fill-opacity="0.7"/>
<circle cx="441.48" cy="218.54" r="1.6" fill="#d0061f" fill-opacity="0.7"/>
<circle cx="423.95" cy="225.00" r="1.6" fill="#d0061f" fill-opacity="0.7"/>
<circle cx="444.02" cy="226.33" r="1.6" fill="#d0061f" fill-opacity="0.7"/>
<circle cx="456.45" cy="223.33" r="1.6" fill="#d0061f" fill-opacity="0.7"/>
<circle cx="465.58" cy="218.64" r="1.6" fill="#d0061f" fill-opacity="0.7"/>
<circle cx="416.40" cy="226.15" r="1.6" fill="#d0061f" fill-opacity="0.7"/>
<circle cx="468.42" cy="219.53" r="1.6" fill="#d0061f" fill-opacity="0.7"/>
<circle cx="438.97" cy="218.33" r="1.6" fill="#d0061f" fill-opacity="0.7"/>
<circle cx="457.26" cy="222.65" r="1.6" fill="#d0061f" fill-opacity="0.7"/>
<circle cx="474.05" cy="217.76" r="1.6" fill="#d0061f" fill-opacity="0.7"/>
<circle cx="407.94" cy="225.73" r="1.6" fill="#d0061f" fill-opacity="0.7"/>
<circle cx="464.72" cy="217.22" r="1.6" fill="#d0061f" fill-opacity="0.7"/>
<circle cx="499.26" cy="217.99" r="1.6" fill="#d0061f" fill-opacity="0.7"/>
<circle cx="455.24" cy="225.15" r="1.6" fill="#d0061f" fill-opacity="0.7"/>
<circle cx="435.47" cy="220.40" r="1.6" fill="#d0061f" fill-opacity="0.7"/>
<circle cx="468.87" cy="218.92" r="1.6" fill="#d0061f" fill-opacity="0.7"/>
<circle cx="402.39" cy="225.05" r="1.6" fill="#d0061f" fill-opacity="0.7"/>
<circle cx="470.02" cy="224.79" r="1.6" fill="#d0061f" fill-opacity="0.7"/>
<circle cx="456.08" cy="222.85" r="1.6" fill="#d0061f" fill-opacity="0.7"/>
<circle cx="495.63" cy="209.42" r="1.6" fill="#d0061f" fill-opacity="0.7"/>
<circle cx="493.09" cy="223.14" r="1.6" fill="#d0061f" fill-opacity="0.7"/>
<circle cx="420.89" cy="225.88" r="1.6" fill="#d0061f" fill-opacity="0.7"/>
<circle cx="435.14" cy="225.05" r="1.6" fill="#d0061f" fill-opacity="0.7"/>
<circle cx="435.65" cy="216.07" r="1.6" fill="#d0061f" fill-opacity="0.7"/>
<circle cx="429.38" cy="224.99" r="1.6" fill="#d0061f" fill-opacity="0.7"/>
<circle cx="467.10" cy="221.74" r="1.6" fill="#d0061f" fill-opacity="0.7"/>
<circle cx="484.41" cy="218.64" r="1.6" fill="#d0061f" fill-opacity="0.7"/>
<circle cx="429.43" cy="221.76" r="1.6" fill="#d0061f" fill-opacity="0.7"/>
<circle cx="403.42" cy="224.39" r="1.6" fill="#d0061f" fill-opacity="0.7"/>
<circle cx="431.24" cy="221.08" r="1.6" fill="#d0061f" fill-opacity="0.7"/>
<circle cx="428.13" cy="220.77" r="1.6" fill="#d0061f" fill-opacity="0.7"/>
<circle cx="502.54" cy="216.57" r="1.6" fill="#d0061f" fill-opacity="0.7"/>
<circle cx="396.41" cy="225.39" r="1.6" fill="#d0061f" fill-opacity="0.7"/>
<circle cx="495.27" cy="211.88" r="1.6" fill="#d0061f" fill-opacity="0.7"/>
<circle cx="409.91" cy="225.27" r="1.6" fill="#d0061f" fill-opacity="0.7"/>
<circle cx="412.53" cy="222.94" r="1.6" fill="#d0061f" fill-opacity="0.7"/>
<circle cx="439.65" cy="220.25" r="1.6" fill="#d0061f" fill-opacity="0.7"/>
<circle cx="403.37" cy="225.98" r="1.6" fill="#d0061f" fill-opacity="0.7"/>
<circle cx="440.65" cy="222.63" r="1.6" fill="#d0061f" fill-opacity="0.7"/>
<circle cx="444.11" cy="224.56" r="1.6" fill="#d0061f" fill-opacity="0.7"/>
<circle cx="498.08" cy="216.31" r="1.6" fill="#d0061f" fill-opacity="0.7"/>
<circle cx="416.69" cy="225.33" r="1.6" fill="#d0061f" fill-opacity="0.7"/>
<circle cx="498.37" cy="208.64" r="1.6" fill="#d0061f" fill-opacity="0.7"/>
<circle cx="471.41" cy="214.59" r="1.6" fill="#d0061f" fill-opacity="0.7"/>
<circle cx="487.84" cy="215.47" r="1.6" fill="#d0061f" fill-opacity="0.7"/>
<circle cx="423.04" cy="225.39" r="1.6" fill="#d0061f" fill-opacity="0.7"/>
<circle cx="484.12" cy="215.85" r="1.6" fill="#d0061f" fill-opacity="0.7"/>
<circle cx="457.98" cy="212.25" r="1.6" fill="#d0061f" fill-opacity="0.7"/>
<circle cx="485.45" cy="219.27" r="1.6" fill="#d0061f" fill-opacity="0.7"/>
<circle cx="470.00" cy="180.50" r="1.6" fill="#d0061f" fill-opacity="0.7"/>
<circle cx="454.50" cy="186.30" r="1.6" fill="#d0061f" fill-opacity="0.7"/>
<circle cx="447.00" cy="193.80" r="1.6" fill="#d0061f" fill-opacity="0.7"/>
<circle cx="472.50" cy="198.80" r="1.6" fill="#d0061f" fill-opacity="0.7"/>
<circle cx="486.30" cy="197.00" r="1.6" fill="#d0061f" fill-opacity="0.7"/>
<circle cx="493.80" cy="199.50" r="1.6" fill="#d0061f" fill-opacity="0.7"/>
<circle cx="502.00" cy="203.80" r="1.6" fill="#d0061f" fill-opacity="0.7"/>
<circle cx="457.50" cy="207.50" r="1.6" fill="#d0061f" fill-opacity="0.7"/>
<circle cx="451.30" cy="208.00" r="1.6" fill="#d0061f" fill-opacity="0.7"/>
<circle cx="440.00" cy="208.80" r="1.6" fill="#d0061f" fill-opacity="0.7"/>
<circle cx="462.00" cy="203.00" r="1.6" fill="#d0061f" fill-opacity="0.7"/>
<circle cx="507.50" cy="220.50" r="1.6" fill="#d0061f" fill-opacity="0.7"/>
<circle cx="461.00" cy="210.00" r="1.6" fill="#d0061f" fill-opacity="0.7"/>
<circle cx="478.00" cy="206.00" r="1.6" fill="#d0061f" fill-opacity="0.7"/>
<circle cx="488.00" cy="207.00" r="1.6" fill="#d0061f" fill-opacity="0.7"/>
<circle cx="495.00" cy="206.00" r="1.6" fill="#d0061f" fill-opacity="0.7"/>
<path d="M394,226.6 C410,225.8 425,224 436,222 C450,219 462,216 475,214.8 C490,213.6 500,213.2 507.5,212.6" fill="none" stroke="#a80a1c" stroke-width="1.3"/>
<text x="453.60" y="251.70" font-size="8.6" text-anchor="middle" fill="#222">Progression</text>
<line x1="393.20" y1="255.60" x2="393.20" y2="309.30" stroke="#222" stroke-width="1.1"/>
<line x1="392.70" y1="309.30" x2="513.40" y2="309.30" stroke="#222" stroke-width="1.2"/>
<line x1="390.70" y1="270.72" x2="393.20" y2="270.72" stroke="#222" stroke-width="0.9"/>
<text x="388.00" y="273.02" font-size="6.4" text-anchor="end" fill="#333" textLength="9.00" lengthAdjust="spacingAndGlyphs">0.8</text>
<line x1="390.70" y1="286.76" x2="393.20" y2="286.76" stroke="#222" stroke-width="0.9"/>
<text x="388.00" y="289.06" font-size="6.4" text-anchor="end" fill="#333" textLength="9.00" lengthAdjust="spacingAndGlyphs">0.4</text>
<line x1="390.70" y1="302.80" x2="393.20" y2="302.80" stroke="#222" stroke-width="0.9"/>
<text x="388.00" y="305.10" font-size="6.4" text-anchor="end" fill="#333" textLength="9.00" lengthAdjust="spacingAndGlyphs">0.0</text>
<line x1="393.20" y1="309.30" x2="393.20" y2="311.80" stroke="#222" stroke-width="0.9"/>
<line x1="436.40" y1="309.30" x2="436.40" y2="311.80" stroke="#222" stroke-width="0.9"/>
<line x1="479.60" y1="309.30" x2="479.60" y2="311.80" stroke="#222" stroke-width="0.9"/>
<path d="M394,301.5 C415,301.5 425,300 436,298.5 C452,296.5 462,295 473,294.2 C485,293.6 490,294 495,294.2 L495,295.8 C485,295.8 473,296.6 462,297.8 C450,299 436,301 425,302.6 C415,304 405,304 394,304.2 Z" fill="#9fd88c" stroke="none" stroke-width="1" fill-opacity="0.6"/>
<circle cx="395.00" cy="302.50" r="1.6" fill="#74c458" fill-opacity="0.6"/>
<circle cx="398.00" cy="303.00" r="1.6" fill="#74c458" fill-opacity="0.6"/>
<circle cx="401.00" cy="302.80" r="1.6" fill="#74c458" fill-opacity="0.6"/>
<circle cx="405.00" cy="303.50" r="1.6" fill="#74c458" fill-opacity="0.6"/>
<circle cx="409.00" cy="302.00" r="1.6" fill="#74c458" fill-opacity="0.6"/>
<circle cx="413.00" cy="302.80" r="1.6" fill="#74c458" fill-opacity="0.6"/>
<circle cx="418.00" cy="302.30" r="1.6" fill="#74c458" fill-opacity="0.6"/>
<circle cx="423.00" cy="301.60" r="1.6" fill="#74c458" fill-opacity="0.6"/>
<circle cx="428.00" cy="300.40" r="1.6" fill="#74c458" fill-opacity="0.6"/>
<circle cx="450.28" cy="297.86" r="1.6" fill="#74c458" fill-opacity="0.6"/>
<circle cx="477.73" cy="296.73" r="1.6" fill="#74c458" fill-opacity="0.6"/>
<circle cx="468.74" cy="293.89" r="1.6" fill="#74c458" fill-opacity="0.6"/>
<circle cx="446.42" cy="296.34" r="1.6" fill="#74c458" fill-opacity="0.6"/>
<circle cx="447.69" cy="297.89" r="1.6" fill="#74c458" fill-opacity="0.6"/>
<circle cx="466.46" cy="294.16" r="1.6" fill="#74c458" fill-opacity="0.6"/>
<circle cx="475.90" cy="293.42" r="1.6" fill="#74c458" fill-opacity="0.6"/>
<circle cx="479.75" cy="297.56" r="1.6" fill="#74c458" fill-opacity="0.6"/>
<circle cx="466.22" cy="297.31" r="1.6" fill="#74c458" fill-opacity="0.6"/>
<circle cx="487.85" cy="293.18" r="1.6" fill="#74c458" fill-opacity="0.6"/>
<circle cx="467.23" cy="295.53" r="1.6" fill="#74c458" fill-opacity="0.6"/>
<circle cx="489.66" cy="294.49" r="1.6" fill="#74c458" fill-opacity="0.6"/>
<circle cx="461.25" cy="295.99" r="1.6" fill="#74c458" fill-opacity="0.6"/>
<circle cx="449.12" cy="297.83" r="1.6" fill="#74c458" fill-opacity="0.6"/>
<circle cx="450.45" cy="297.75" r="1.6" fill="#74c458" fill-opacity="0.6"/>
<circle cx="467.91" cy="296.72" r="1.6" fill="#74c458" fill-opacity="0.6"/>
<circle cx="461.08" cy="294.35" r="1.6" fill="#74c458" fill-opacity="0.6"/>
<circle cx="460.71" cy="297.99" r="1.6" fill="#74c458" fill-opacity="0.6"/>
<circle cx="443.32" cy="298.61" r="1.6" fill="#74c458" fill-opacity="0.6"/>
<circle cx="443.91" cy="300.67" r="1.6" fill="#74c458" fill-opacity="0.6"/>
<circle cx="465.21" cy="294.72" r="1.6" fill="#74c458" fill-opacity="0.6"/>
<circle cx="451.02" cy="295.60" r="1.6" fill="#74c458" fill-opacity="0.6"/>
<circle cx="497.30" cy="294.70" r="1.6" fill="#74c458" fill-opacity="0.6"/>
<circle cx="455.96" cy="299.39" r="1.6" fill="#74c458" fill-opacity="0.6"/>
<circle cx="488.64" cy="296.49" r="1.6" fill="#74c458" fill-opacity="0.6"/>
<circle cx="450.30" cy="295.61" r="1.6" fill="#74c458" fill-opacity="0.6"/>
<circle cx="441.68" cy="299.71" r="1.6" fill="#74c458" fill-opacity="0.6"/>
<circle cx="471.74" cy="295.07" r="1.6" fill="#74c458" fill-opacity="0.6"/>
<circle cx="462.30" cy="294.69" r="1.6" fill="#74c458" fill-opacity="0.6"/>
<circle cx="441.59" cy="299.95" r="1.6" fill="#74c458" fill-opacity="0.6"/>
<circle cx="484.32" cy="294.35" r="1.6" fill="#74c458" fill-opacity="0.6"/>
<circle cx="496.89" cy="292.95" r="1.6" fill="#74c458" fill-opacity="0.6"/>
<circle cx="496.96" cy="294.40" r="1.6" fill="#74c458" fill-opacity="0.6"/>
<circle cx="436.55" cy="295.91" r="1.6" fill="#74c458" fill-opacity="0.6"/>
<circle cx="455.95" cy="298.09" r="1.6" fill="#74c458" fill-opacity="0.6"/>
<circle cx="440.11" cy="297.25" r="1.6" fill="#74c458" fill-opacity="0.6"/>
<circle cx="492.24" cy="294.06" r="1.6" fill="#74c458" fill-opacity="0.6"/>
<circle cx="451.92" cy="294.85" r="1.6" fill="#74c458" fill-opacity="0.6"/>
<circle cx="486.65" cy="296.62" r="1.6" fill="#74c458" fill-opacity="0.6"/>
<circle cx="444.23" cy="297.43" r="1.6" fill="#74c458" fill-opacity="0.6"/>
<circle cx="461.49" cy="296.62" r="1.6" fill="#74c458" fill-opacity="0.6"/>
<circle cx="441.08" cy="298.63" r="1.6" fill="#74c458" fill-opacity="0.6"/>
<circle cx="458.15" cy="296.56" r="1.6" fill="#74c458" fill-opacity="0.6"/>
<circle cx="445.78" cy="296.71" r="1.6" fill="#74c458" fill-opacity="0.6"/>
<circle cx="456.21" cy="297.41" r="1.6" fill="#74c458" fill-opacity="0.6"/>
<circle cx="486.84" cy="296.06" r="1.6" fill="#74c458" fill-opacity="0.6"/>
<circle cx="488.27" cy="294.94" r="1.6" fill="#74c458" fill-opacity="0.6"/>
<circle cx="453.32" cy="298.80" r="1.6" fill="#74c458" fill-opacity="0.6"/>
<circle cx="452.06" cy="299.86" r="1.6" fill="#74c458" fill-opacity="0.6"/>
<circle cx="484.49" cy="295.30" r="1.6" fill="#74c458" fill-opacity="0.6"/>
<circle cx="448.16" cy="297.02" r="1.6" fill="#74c458" fill-opacity="0.6"/>
<circle cx="483.54" cy="293.13" r="1.6" fill="#74c458" fill-opacity="0.6"/>
<circle cx="459.93" cy="295.50" r="1.6" fill="#74c458" fill-opacity="0.6"/>
<circle cx="485.98" cy="294.46" r="1.6" fill="#74c458" fill-opacity="0.6"/>
<circle cx="483.83" cy="293.97" r="1.6" fill="#74c458" fill-opacity="0.6"/>
<circle cx="438.54" cy="297.44" r="1.6" fill="#74c458" fill-opacity="0.6"/>
<circle cx="478.37" cy="293.51" r="1.6" fill="#74c458" fill-opacity="0.6"/>
<circle cx="469.05" cy="297.85" r="1.6" fill="#74c458" fill-opacity="0.6"/>
<circle cx="444.43" cy="297.84" r="1.6" fill="#74c458" fill-opacity="0.6"/>
<circle cx="457.83" cy="297.20" r="1.6" fill="#74c458" fill-opacity="0.6"/>
<circle cx="463.80" cy="287.00" r="1.6" fill="#74c458" fill-opacity="0.6"/>
<circle cx="484.50" cy="286.30" r="1.6" fill="#74c458" fill-opacity="0.6"/>
<circle cx="441.00" cy="296.00" r="1.6" fill="#74c458" fill-opacity="0.6"/>
<circle cx="447.00" cy="301.00" r="1.6" fill="#74c458" fill-opacity="0.6"/>
<circle cx="456.00" cy="300.00" r="1.6" fill="#74c458" fill-opacity="0.6"/>
<path d="M394,302.8 C415,302.6 425,300.8 436,298.8 C452,296.5 462,295.2 473,294.6 C485,294.2 490,294.4 495,294.6" fill="none" stroke="#4aa82e" stroke-width="1.3"/>
<text x="453.60" y="328.30" font-size="8.6" text-anchor="middle" fill="#222">Stable/Response</text>
<line x1="393.20" y1="331.80" x2="393.20" y2="386.30" stroke="#222" stroke-width="1.1"/>
<line x1="392.70" y1="386.30" x2="513.40" y2="386.30" stroke="#222" stroke-width="1.2"/>
<line x1="390.70" y1="345.90" x2="393.20" y2="345.90" stroke="#222" stroke-width="0.9"/>
<text x="388.00" y="348.20" font-size="6.4" text-anchor="end" fill="#333" textLength="9.00" lengthAdjust="spacingAndGlyphs">0.8</text>
<line x1="390.70" y1="362.60" x2="393.20" y2="362.60" stroke="#222" stroke-width="0.9"/>
<text x="388.00" y="364.90" font-size="6.4" text-anchor="end" fill="#333" textLength="9.00" lengthAdjust="spacingAndGlyphs">0.4</text>
<line x1="390.70" y1="379.30" x2="393.20" y2="379.30" stroke="#222" stroke-width="0.9"/>
<text x="388.00" y="381.60" font-size="6.4" text-anchor="end" fill="#333" textLength="9.00" lengthAdjust="spacingAndGlyphs">0.0</text>
<line x1="393.20" y1="386.30" x2="393.20" y2="388.80" stroke="#222" stroke-width="0.9"/>
<line x1="436.40" y1="386.30" x2="436.40" y2="388.80" stroke="#222" stroke-width="0.9"/>
<line x1="479.60" y1="386.30" x2="479.60" y2="388.80" stroke="#222" stroke-width="0.9"/>
<path d="M400,376.5 L427.5,373 L440,371.5 L450,372 L456,372.8 L463,370 L470,368.8 L476,368.8 L484,370.8 L496.3,372 L496.3,377 L484,375.2 L476,372.6 L470,372.6 L463,375 L456,377.2 L450,376 L440,376 L427.5,378.2 L400,382.5 Z" fill="#bcd3ec" stroke="none" stroke-width="1" fill-opacity="0.75"/>
<circle cx="400.00" cy="379.50" r="1.6" fill="#2f5b8e" fill-opacity="0.8"/>
<circle cx="427.50" cy="377.00" r="1.6" fill="#2f5b8e" fill-opacity="0.8"/>
<circle cx="441.30" cy="370.00" r="1.6" fill="#2f5b8e" fill-opacity="0.8"/>
<circle cx="444.50" cy="372.50" r="1.6" fill="#2f5b8e" fill-opacity="0.8"/>
<circle cx="444.50" cy="376.30" r="1.6" fill="#2f5b8e" fill-opacity="0.8"/>
<circle cx="455.50" cy="375.80" r="1.6" fill="#2f5b8e" fill-opacity="0.8"/>
<circle cx="463.00" cy="370.00" r="1.6" fill="#2f5b8e" fill-opacity="0.8"/>
<circle cx="462.50" cy="373.00" r="1.6" fill="#2f5b8e" fill-opacity="0.8"/>
<circle cx="470.00" cy="374.30" r="1.6" fill="#2f5b8e" fill-opacity="0.8"/>
<circle cx="475.00" cy="370.00" r="1.6" fill="#2f5b8e" fill-opacity="0.8"/>
<circle cx="483.80" cy="373.80" r="1.6" fill="#2f5b8e" fill-opacity="0.8"/>
<circle cx="488.80" cy="374.50" r="1.6" fill="#2f5b8e" fill-opacity="0.8"/>
<circle cx="496.30" cy="374.30" r="1.6" fill="#2f5b8e" fill-opacity="0.8"/>
<circle cx="466.00" cy="371.00" r="1.6" fill="#2f5b8e" fill-opacity="0.8"/>
<circle cx="452.00" cy="375.00" r="1.6" fill="#2f5b8e" fill-opacity="0.8"/>
<path d="M400,379.3 L427.5,375.5 L440,373.8 L445,373.8 L450,374.5 L456.3,375 L462.5,372.5 L470,370.8 L476.3,370.8 L483.8,373 L496.3,374.5" fill="none" stroke="#2f5b8e" stroke-width="1.3" stroke-linejoin="round"/>
<text x="393.20" y="398.00" font-size="6.4" text-anchor="middle" fill="#333">0</text>
<text x="436.40" y="398.00" font-size="6.4" text-anchor="middle" fill="#333">1</text>
<text x="479.60" y="398.00" font-size="6.4" text-anchor="middle" fill="#333">2</text>
<text x="447.50" y="406.30" font-size="8.1" text-anchor="middle" fill="#333" textLength="71.00" lengthAdjust="spacingAndGlyphs">IL6R expression (FPKM)</text>
<circle cx="429.40" cy="417.80" r="1.3" fill="#888"/>
<text x="434.40" y="419.90" font-size="6.6" text-anchor="start" fill="#444" textLength="33.40" lengthAdjust="spacingAndGlyphs">MM patient</text>
<text x="371.90" y="286.20" font-size="7.8" text-anchor="middle" fill="#333" textLength="82.60" lengthAdjust="spacingAndGlyphs" transform="rotate(-90 371.90 286.20)">IL6R-AS1 expression (FPKM)</text>
<text x="6.90" y="440.80" font-size="11.0" text-anchor="start" fill="#111" font-weight="bold">E</text>
<line x1="34.60" y1="446.90" x2="34.60" y2="647.40" stroke="#222" stroke-width="1.1"/>
<line x1="34.10" y1="647.40" x2="336.20" y2="647.40" stroke="#222" stroke-width="1.1"/>
<line x1="32.00" y1="471.00" x2="34.60" y2="471.00" stroke="#222" stroke-width="0.9"/>
<text x="28.40" y="473.30" font-size="6.4" text-anchor="end" fill="#333" textLength="9.60" lengthAdjust="spacingAndGlyphs">0.5</text>
<line x1="32.00" y1="520.00" x2="34.60" y2="520.00" stroke="#222" stroke-width="0.9"/>
<text x="28.40" y="522.30" font-size="6.4" text-anchor="end" fill="#333" textLength="9.60" lengthAdjust="spacingAndGlyphs">0.4</text>
<line x1="32.00" y1="568.80" x2="34.60" y2="568.80" stroke="#222" stroke-width="0.9"/>
<text x="28.40" y="571.10" font-size="6.4" text-anchor="end" fill="#333" textLength="9.60" lengthAdjust="spacingAndGlyphs">0.3</text>
<line x1="32.00" y1="618.20" x2="34.60" y2="618.20" stroke="#222" stroke-width="0.9"/>
<text x="28.40" y="620.50" font-size="6.4" text-anchor="end" fill="#333" textLength="9.60" lengthAdjust="spacingAndGlyphs">0.2</text>
<line x1="70.90" y1="647.40" x2="70.90" y2="650.00" stroke="#222" stroke-width="0.9"/>
<text x="70.90" y="657.70" font-size="6.4" text-anchor="middle" fill="#333" textLength="12.60" lengthAdjust="spacingAndGlyphs">0.05</text>
<line x1="122.80" y1="647.40" x2="122.80" y2="650.00" stroke="#222" stroke-width="0.9"/>
<text x="122.80" y="657.70" font-size="6.4" text-anchor="middle" fill="#333" textLength="12.60" lengthAdjust="spacingAndGlyphs">0.10</text>
<line x1="174.90" y1="647.40" x2="174.90" y2="650.00" stroke="#222" stroke-width="0.9"/>
<text x="174.90" y="657.70" font-size="6.4" text-anchor="middle" fill="#333" textLength="12.60" lengthAdjust="spacingAndGlyphs">0.15</text>
<line x1="227.60" y1="647.40" x2="227.60" y2="650.00" stroke="#222" stroke-width="0.9"/>
<text x="227.60" y="657.70" font-size="6.4" text-anchor="middle" fill="#333" textLength="12.60" lengthAdjust="spacingAndGlyphs">0.20</text>
<line x1="281.00" y1="647.40" x2="281.00" y2="650.00" stroke="#222" stroke-width="0.9"/>
<text x="281.00" y="657.70" font-size="6.4" text-anchor="middle" fill="#333" textLength="12.60" lengthAdjust="spacingAndGlyphs">0.25</text>
<line x1="334.30" y1="647.40" x2="334.30" y2="650.00" stroke="#222" stroke-width="0.9"/>
<text x="334.30" y="657.70" font-size="6.4" text-anchor="middle" fill="#333" textLength="12.60" lengthAdjust="spacingAndGlyphs">0.30</text>
<text x="185.60" y="670.90" font-size="7.8" text-anchor="middle" fill="#333" textLength="201.60" lengthAdjust="spacingAndGlyphs">Max differential expression vs. normal samples (scaled -log10 pval)</text>
<text x="12.70" y="547.00" font-size="7.2" text-anchor="middle" fill="#333" textLength="38.30" lengthAdjust="spacingAndGlyphs" transform="rotate(-90 12.70 547.00)">Priority score</text>
<circle cx="46.10" cy="456.30" r="3.4" fill="#da7563" stroke="#c45a4c" stroke-width="0.6"/>
<text x="51.90" y="464.60" font-size="6.5" text-anchor="start" fill="#333" textLength="42.30" lengthAdjust="spacingAndGlyphs">RP11-350G8.5</text>
<circle cx="66.70" cy="528.20" r="3.4" fill="#cc3a3e" stroke="#b02a30" stroke-width="0.6"/>
<text x="71.60" y="529.90" font-size="6.5" text-anchor="start" fill="#333" textLength="40.20" lengthAdjust="spacingAndGlyphs">RP11-111J6.2</text>
<circle cx="335.40" cy="499.10" r="3.4" fill="#e68a88" stroke="#cc6c6c" stroke-width="0.6"/>
<text x="293.00" y="510.80" font-size="6.5" text-anchor="start" fill="#333" textLength="44.00" lengthAdjust="spacingAndGlyphs">RP11-269F19.2</text>
<path d="M127.10,609.80 L131.60,602.00 L136.10,609.80 Z" fill="#f2c2b2" stroke="none" stroke-width="0" stroke-linejoin="miter"/>
<text x="110.00" y="599.70" font-size="6.5" text-anchor="start" fill="#333" textLength="42.30" lengthAdjust="spacingAndGlyphs">RP5-1142A6.9</text>
<path d="M52.90,637.50 L57.40,629.70 L61.90,637.50 Z" fill="#bf1f35" stroke="none" stroke-width="0" stroke-linejoin="miter"/>
<text x="46.00" y="627.60" font-size="6.5" text-anchor="start" fill="#333" textLength="40.80" lengthAdjust="spacingAndGlyphs">RP4-564F22.5</text>
<path d="M159.90,620.30 L164.40,612.50 L168.90,620.30 Z" fill="#d35a55" stroke="none" stroke-width="0" stroke-linejoin="miter"/>
<text x="167.80" y="612.90" font-size="6.5" text-anchor="start" fill="#333" textLength="40.90" lengthAdjust="spacingAndGlyphs">RP5-1142A6.2</text>
<path d="M171.40,631.30 L176.30,626.40 L181.20,631.30 L176.30,636.20 Z" fill="#b4102c" stroke="none" stroke-width="0"/>
<text x="134.20" y="636.90" font-size="6.5" text-anchor="start" fill="#333" textLength="36.00" lengthAdjust="spacingAndGlyphs">AC084809.2</text>
<path d="M188.50,636.50 L193.00,628.70 L197.50,636.50 Z" fill="#eeaaa2" stroke="none" stroke-width="0" stroke-linejoin="miter"/>
<text x="200.00" y="635.00" font-size="6.5" text-anchor="start" fill="#333" textLength="33.20" lengthAdjust="spacingAndGlyphs">LINC00467</text>
<text x="385.30" y="552.00" font-size="7.0" text-anchor="start" fill="#333" textLength="34.60" lengthAdjust="spacingAndGlyphs">Significantly</text>
<text x="385.30" y="559.10" font-size="7.0" text-anchor="start" fill="#333" textLength="31.70" lengthAdjust="spacingAndGlyphs">essential in</text>
<path d="M385.20,573.40 L388.90,567.00 L392.60,573.40 Z" fill="none" stroke="#111" stroke-width="1.3" stroke-linejoin="miter"/>
<text x="396.30" y="572.60" font-size="7.0" text-anchor="start" fill="#333" textLength="16.30" lengthAdjust="spacingAndGlyphs">ABZB</text>
<path d="M385.00,580.50 L389.00,576.50 L393.00,580.50 L389.00,584.50 Z" fill="none" stroke="#111" stroke-width="1.3"/>
<text x="396.30" y="583.10" font-size="7.0" text-anchor="start" fill="#333" textLength="20.70" lengthAdjust="spacingAndGlyphs">AMO-1</text>
<circle cx="389.00" cy="589.90" r="2.5" fill="none" stroke="#111" stroke-width="1.3"/>
<text x="396.30" y="592.90" font-size="7.0" text-anchor="start" fill="#333" textLength="13.40" lengthAdjust="spacingAndGlyphs">Both</text>
<rect x="440.50" y="543.10" width="6.30" height="6.90" fill="#f4c5c5" stroke="none" stroke-width="0" rx="0"/>
<rect x="440.50" y="549.90" width="6.30" height="6.90" fill="#efb2b4" stroke="none" stroke-width="0" rx="0"/>
<rect x="440.50" y="556.70" width="6.30" height="6.90" fill="#ea9fa2" stroke="none" stroke-width="0" rx="0"/>
<rect x="440.50" y="563.50" width="6.30" height="6.90" fill="#e48a90" stroke="none" stroke-width="0" rx="0"/>
<rect x="440.50" y="570.30" width="6.30" height="6.90" fill="#de747d" stroke="none" stroke-width="0" rx="0"/>
<rect x="440.50" y="577.10" width="6.30" height="6.90" fill="#d75b68" stroke="none" stroke-width="0" rx="0"/>
<rect x="440.50" y="583.90" width="6.30" height="6.90" fill="#d03e52" stroke="none" stroke-width="0" rx="0"/>
<rect x="440.50" y="590.70" width="6.30" height="6.90" fill="#c8203c" stroke="none" stroke-width="0" rx="0"/>
<line x1="453.00" y1="568.70" x2="453.00" y2="551.50" stroke="#111" stroke-width="1.0"/>
<path d="M451.2,552 L453,547.6 L454.8,552 Z" fill="#111" stroke="none" stroke-width="1"/>
<text x="451.50" y="580.10" font-size="7.0" text-anchor="start" fill="#333" textLength="12.50" lengthAdjust="spacingAndGlyphs">Max</text>
<text x="451.50" y="588.90" font-size="7.0" text-anchor="start" fill="#333" textLength="31.00" lengthAdjust="spacingAndGlyphs">prognostic</text>
<text x="451.50" y="595.50" font-size="7.0" text-anchor="start" fill="#333" textLength="26.30" lengthAdjust="spacingAndGlyphs">potential</text>
<rect x="0.5" y="0.5" width="519" height="679" fill="none" stroke="#5a5a5a" stroke-width="1.2"/>
</svg>
</body></html>
